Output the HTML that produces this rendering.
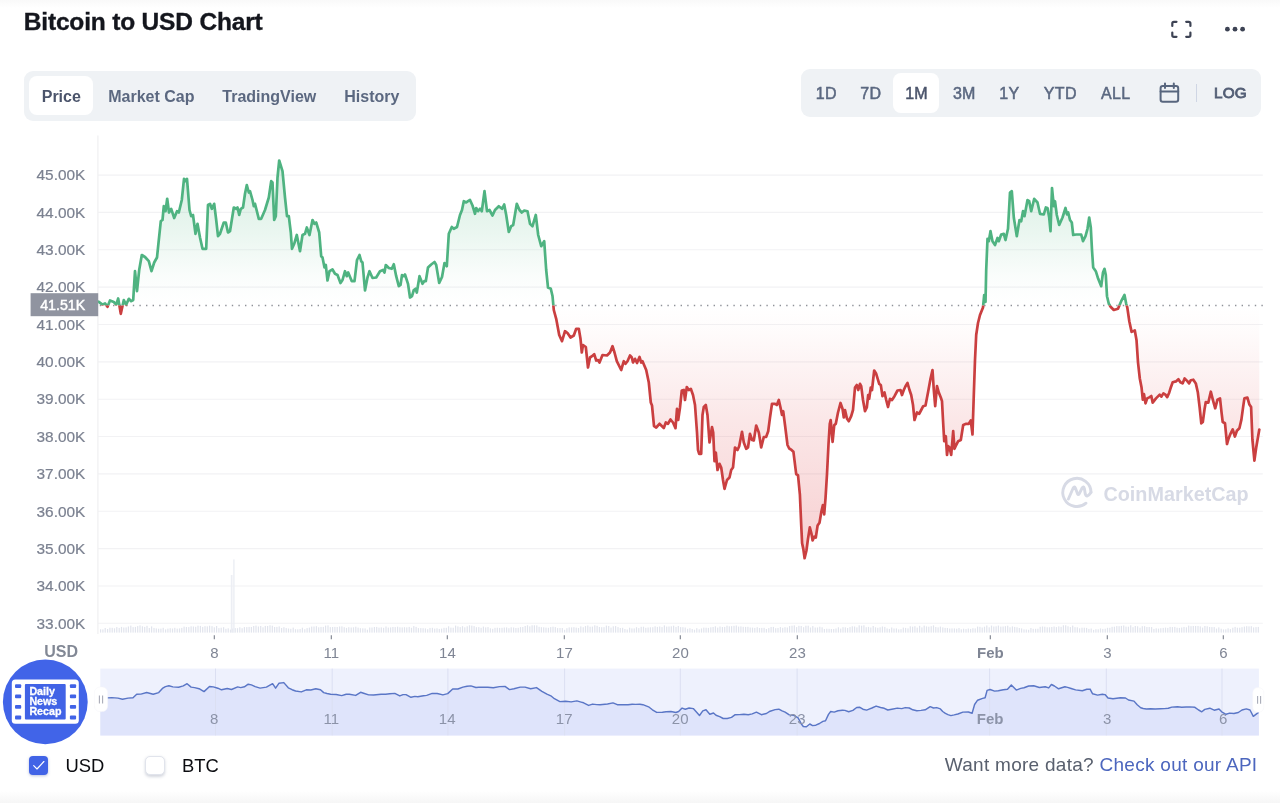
<!DOCTYPE html>
<html lang="en">
<head>
<meta charset="utf-8">
<title>Bitcoin to USD Chart</title>
<style>
html,body{margin:0;padding:0;background:#fff;}
body{width:1280px;height:803px;position:relative;overflow:hidden;font-family:"Liberation Sans",sans-serif;color:#222531;}
.abs{position:absolute;}
h1{position:absolute;left:23.8px;top:6.6px;margin:0;font-size:24.5px;line-height:30px;font-weight:bold;color:#14161d;-webkit-text-stroke:0.35px #14161d;letter-spacing:-0.18px;white-space:nowrap;}
.seg{position:absolute;background:#eff2f5;border-radius:9px;}
.seg span{position:absolute;top:1px;height:100%;display:flex;align-items:center;justify-content:center;font-weight:bold;font-size:16px;color:#5b6880;white-space:nowrap;}
.seg i{position:absolute;background:#fff;border-radius:8px;}
.seg span.on{color:#4b546b;}
#tabs{left:24.3px;top:70.8px;width:392px;height:49.8px;}
#range{left:801px;top:69px;width:459.8px;height:47.8px;}
#range span{font-size:16px;letter-spacing:0.3px;font-weight:normal;-webkit-text-stroke:0.5px #5b6880;top:0.9px;padding-left:0.3px;}
#range span.on{-webkit-text-stroke:0.5px #4b546b;}
.leg{position:absolute;top:753.7px;font-size:18.4px;line-height:24px;color:#0b0c10;}
.cb{position:absolute;width:19px;height:19px;border-radius:4px;box-sizing:border-box;}
#foot{position:absolute;right:22.6px;top:753px;font-size:19px;letter-spacing:0.28px;line-height:24px;color:#59606e;white-space:nowrap;}
#foot a{color:#4c66be;text-decoration:none;}
svg text{font-family:"Liberation Sans",sans-serif;}
</style>
</head>
<body>
<div class="abs" style="left:0;top:0;width:1280px;height:8px;background:linear-gradient(#f9f9f9,#fff);"></div>
<div class="abs" style="left:0;top:791px;width:1280px;height:12px;background:linear-gradient(#fff,#f6f6f6);"></div>
<h1>Bitcoin to USD Chart</h1>

<svg class="abs" style="left:1168px;top:16px" width="84" height="28" viewBox="1168 16 84 28">
  <g fill="none" stroke="#3d4354" stroke-width="2.2" stroke-linecap="round" stroke-linejoin="round">
    <path d="M1172.3,26 V23.4 a1.6,1.6 0 0 1 1.6,-1.6 H1176.5"/>
    <path d="M1186.2,21.8 H1188.8 a1.6,1.6 0 0 1 1.6,1.6 V26"/>
    <path d="M1190.4,32.6 V35.2 a1.6,1.6 0 0 1 -1.6,1.6 H1186.2"/>
    <path d="M1176.5,36.8 H1173.9 a1.6,1.6 0 0 1 -1.6,-1.6 V32.6"/>
  </g>
  <g fill="#3d4354"><circle cx="1227.4" cy="29.2" r="2.4"/><circle cx="1235" cy="29.2" r="2.4"/><circle cx="1242.6" cy="29.2" r="2.4"/></g>
</svg>

<div class="seg" id="tabs">
  <i style="left:5.1px;top:4.8px;width:63.7px;height:39.9px;"></i>
  <span class="on" style="left:5px;width:64px;">Price</span>
  <span style="left:84px;width:86px;">Market Cap</span>
  <span style="left:198px;width:94px;">TradingView</span>
  <span style="left:320px;width:55px;">History</span>
</div>

<div class="seg" id="range">
  <span style="left:16px;width:18px;">1D</span>
  <span style="left:59px;width:21px;">7D</span>
  <i style="left:91.8px;top:4.3px;width:46.2px;height:40.2px;"></i>
  <span class="on" style="left:92.5px;width:45.5px;">1M</span>
  <span style="left:151px;width:24px;">3M</span>
  <span style="left:199px;width:18px;">1Y</span>
  <span style="left:242px;width:34px;">YTD</span>
  <span style="left:300px;width:29px;">ALL</span>
  <span style="left:412.4px;width:33.6px;top:0.4px;letter-spacing:0.25px;font-size:15.3px;-webkit-text-stroke:0.85px #535e75;color:#535e75">LOG</span>
  <svg class="abs" style="left:355px;top:11px" width="44" height="26" viewBox="1156 80 44 26">
    <g fill="none" stroke="#58667e" stroke-width="2" stroke-linecap="round" stroke-linejoin="round">
      <rect x="1160.6" y="86" width="17.6" height="15.8" rx="2.2"/>
      <path d="M1160.6,91.6 H1178.2 M1165,83.6 V88 M1173.8,83.6 V88"/>
    </g>
    <line x1="1196.5" x2="1196.5" y1="84" y2="102" stroke="#cfd6e4" stroke-width="1"/>
  </svg>
</div>

<svg class="abs" style="left:0;top:130px" width="1280" height="610" viewBox="0 130 1280 610">
  <defs>
    <linearGradient id="gg" gradientUnits="userSpaceOnUse" x1="0" y1="160" x2="0" y2="305.5">
      <stop offset="0" stop-color="#58b987" stop-opacity="0.26"/>
      <stop offset="0.5" stop-color="#58b987" stop-opacity="0.125"/>
      <stop offset="0.8" stop-color="#58b987" stop-opacity="0.03"/>
      <stop offset="1" stop-color="#58b987" stop-opacity="0"/>
    </linearGradient>
    <linearGradient id="rg" gradientUnits="userSpaceOnUse" x1="0" y1="305.5" x2="0" y2="558">
      <stop offset="0" stop-color="#e0484d" stop-opacity="0"/>
      <stop offset="0.1" stop-color="#e0484d" stop-opacity="0.02"/>
      <stop offset="0.45" stop-color="#e0484d" stop-opacity="0.13"/>
      <stop offset="1" stop-color="#e0484d" stop-opacity="0.26"/>
    </linearGradient>
    <clipPath id="up"><rect x="90" y="130" width="1180" height="175.5"/></clipPath>
    <clipPath id="dn"><rect x="90" y="305.5" width="1180" height="300"/></clipPath>
  </defs>
  <g stroke="#f2f2f4" stroke-width="1.1"><line x1="97.9" x2="1262.8" y1="623.3" y2="623.3"/><line x1="97.9" x2="1262.8" y1="586.0" y2="586.0"/><line x1="97.9" x2="1262.8" y1="548.6" y2="548.6"/><line x1="97.9" x2="1262.8" y1="511.2" y2="511.2"/><line x1="97.9" x2="1262.8" y1="473.9" y2="473.9"/><line x1="97.9" x2="1262.8" y1="436.5" y2="436.5"/><line x1="97.9" x2="1262.8" y1="399.2" y2="399.2"/><line x1="97.9" x2="1262.8" y1="361.9" y2="361.9"/><line x1="97.9" x2="1262.8" y1="324.5" y2="324.5"/><line x1="97.9" x2="1262.8" y1="287.1" y2="287.1"/><line x1="97.9" x2="1262.8" y1="249.8" y2="249.8"/><line x1="97.9" x2="1262.8" y1="212.4" y2="212.4"/><line x1="97.9" x2="1262.8" y1="175.1" y2="175.1"/></g>
  <line x1="97.9" x2="97.9" y1="135.6" y2="634" stroke="#f0f0f2" stroke-width="1.3"/>
  <g fill="#e1e4ed"><rect x="100.0" y="629.3" width="1.2" height="3.3"/><rect x="102.3" y="629.4" width="1.2" height="3.2"/><rect x="104.6" y="628.0" width="1.2" height="4.6"/><rect x="107.0" y="629.0" width="1.2" height="3.6"/><rect x="109.3" y="627.7" width="1.2" height="4.9"/><rect x="111.6" y="627.8" width="1.2" height="4.8"/><rect x="113.9" y="628.3" width="1.2" height="4.3"/><rect x="116.2" y="627.1" width="1.2" height="5.5"/><rect x="118.6" y="627.9" width="1.2" height="4.7"/><rect x="120.9" y="626.9" width="1.2" height="5.7"/><rect x="123.2" y="627.5" width="1.2" height="5.1"/><rect x="125.5" y="627.4" width="1.2" height="5.2"/><rect x="127.8" y="626.5" width="1.2" height="6.1"/><rect x="130.2" y="625.6" width="1.2" height="7.0"/><rect x="132.5" y="627.1" width="1.2" height="5.5"/><rect x="134.8" y="626.9" width="1.2" height="5.7"/><rect x="137.1" y="626.1" width="1.2" height="6.5"/><rect x="139.4" y="625.4" width="1.2" height="7.2"/><rect x="141.8" y="626.3" width="1.2" height="6.3"/><rect x="144.1" y="626.9" width="1.2" height="5.7"/><rect x="146.4" y="625.8" width="1.2" height="6.8"/><rect x="148.7" y="628.0" width="1.2" height="4.6"/><rect x="151.0" y="626.4" width="1.2" height="6.2"/><rect x="153.4" y="627.9" width="1.2" height="4.7"/><rect x="155.7" y="628.4" width="1.2" height="4.2"/><rect x="158.0" y="628.7" width="1.2" height="3.9"/><rect x="160.3" y="628.6" width="1.2" height="4.0"/><rect x="162.6" y="627.8" width="1.2" height="4.8"/><rect x="165.0" y="629.4" width="1.2" height="3.2"/><rect x="167.3" y="628.6" width="1.2" height="4.0"/><rect x="169.6" y="628.2" width="1.2" height="4.4"/><rect x="171.9" y="628.5" width="1.2" height="4.1"/><rect x="174.2" y="627.8" width="1.2" height="4.8"/><rect x="176.6" y="628.6" width="1.2" height="4.0"/><rect x="178.9" y="628.4" width="1.2" height="4.2"/><rect x="181.2" y="627.9" width="1.2" height="4.7"/><rect x="183.5" y="626.6" width="1.2" height="6.0"/><rect x="185.8" y="627.0" width="1.2" height="5.6"/><rect x="188.2" y="627.1" width="1.2" height="5.5"/><rect x="190.5" y="626.3" width="1.2" height="6.3"/><rect x="192.8" y="626.5" width="1.2" height="6.1"/><rect x="195.1" y="626.8" width="1.2" height="5.8"/><rect x="197.4" y="625.7" width="1.2" height="6.9"/><rect x="199.8" y="625.9" width="1.2" height="6.7"/><rect x="202.1" y="626.9" width="1.2" height="5.7"/><rect x="204.4" y="626.2" width="1.2" height="6.4"/><rect x="206.7" y="626.4" width="1.2" height="6.2"/><rect x="209.0" y="625.7" width="1.2" height="6.9"/><rect x="211.4" y="626.2" width="1.2" height="6.4"/><rect x="213.7" y="627.3" width="1.2" height="5.3"/><rect x="216.0" y="626.0" width="1.2" height="6.6"/><rect x="218.3" y="628.1" width="1.2" height="4.5"/><rect x="220.6" y="627.7" width="1.2" height="4.9"/><rect x="223.0" y="627.2" width="1.2" height="5.4"/><rect x="225.3" y="628.8" width="1.2" height="3.8"/><rect x="227.6" y="628.3" width="1.2" height="4.3"/><rect x="229.9" y="629.6" width="1.2" height="3.0"/><rect x="232.2" y="628.5" width="1.2" height="4.1"/><rect x="234.6" y="628.1" width="1.2" height="4.5"/><rect x="236.9" y="628.2" width="1.2" height="4.4"/><rect x="239.2" y="627.3" width="1.2" height="5.3"/><rect x="241.5" y="628.2" width="1.2" height="4.4"/><rect x="243.8" y="627.1" width="1.2" height="5.5"/><rect x="246.2" y="627.1" width="1.2" height="5.5"/><rect x="248.5" y="626.9" width="1.2" height="5.7"/><rect x="250.8" y="627.0" width="1.2" height="5.6"/><rect x="253.1" y="626.0" width="1.2" height="6.6"/><rect x="255.4" y="625.6" width="1.2" height="7.0"/><rect x="257.8" y="626.5" width="1.2" height="6.1"/><rect x="260.1" y="626.0" width="1.2" height="6.6"/><rect x="262.4" y="627.3" width="1.2" height="5.3"/><rect x="264.7" y="625.9" width="1.2" height="6.7"/><rect x="267.0" y="626.0" width="1.2" height="6.6"/><rect x="269.4" y="625.3" width="1.2" height="7.3"/><rect x="271.7" y="625.7" width="1.2" height="6.9"/><rect x="274.0" y="627.0" width="1.2" height="5.6"/><rect x="276.3" y="626.9" width="1.2" height="5.7"/><rect x="278.6" y="626.4" width="1.2" height="6.2"/><rect x="281.0" y="628.0" width="1.2" height="4.6"/><rect x="283.3" y="627.2" width="1.2" height="5.4"/><rect x="285.6" y="628.1" width="1.2" height="4.5"/><rect x="287.9" y="628.5" width="1.2" height="4.1"/><rect x="290.2" y="628.8" width="1.2" height="3.8"/><rect x="292.6" y="627.6" width="1.2" height="5.0"/><rect x="294.9" y="629.2" width="1.2" height="3.4"/><rect x="297.2" y="629.3" width="1.2" height="3.3"/><rect x="299.5" y="629.0" width="1.2" height="3.6"/><rect x="301.8" y="627.7" width="1.2" height="4.9"/><rect x="304.2" y="629.2" width="1.2" height="3.4"/><rect x="306.5" y="628.1" width="1.2" height="4.5"/><rect x="308.8" y="627.6" width="1.2" height="5.0"/><rect x="311.1" y="626.6" width="1.2" height="6.0"/><rect x="313.4" y="626.5" width="1.2" height="6.1"/><rect x="315.8" y="626.2" width="1.2" height="6.4"/><rect x="318.1" y="627.3" width="1.2" height="5.3"/><rect x="320.4" y="626.9" width="1.2" height="5.7"/><rect x="322.7" y="626.9" width="1.2" height="5.7"/><rect x="325.0" y="625.6" width="1.2" height="7.0"/><rect x="327.4" y="625.4" width="1.2" height="7.2"/><rect x="329.7" y="627.1" width="1.2" height="5.5"/><rect x="332.0" y="627.0" width="1.2" height="5.6"/><rect x="334.3" y="626.9" width="1.2" height="5.7"/><rect x="336.6" y="627.0" width="1.2" height="5.6"/><rect x="339.0" y="626.5" width="1.2" height="6.1"/><rect x="341.3" y="626.4" width="1.2" height="6.2"/><rect x="343.6" y="627.2" width="1.2" height="5.4"/><rect x="345.9" y="627.9" width="1.2" height="4.7"/><rect x="348.2" y="627.2" width="1.2" height="5.4"/><rect x="350.6" y="627.5" width="1.2" height="5.1"/><rect x="352.9" y="627.3" width="1.2" height="5.3"/><rect x="355.2" y="626.7" width="1.2" height="5.9"/><rect x="357.5" y="627.6" width="1.2" height="5.0"/><rect x="359.8" y="628.2" width="1.2" height="4.4"/><rect x="362.2" y="628.3" width="1.2" height="4.3"/><rect x="364.5" y="628.4" width="1.2" height="4.2"/><rect x="366.8" y="629.7" width="1.2" height="2.9"/><rect x="369.1" y="627.5" width="1.2" height="5.1"/><rect x="371.4" y="627.5" width="1.2" height="5.1"/><rect x="373.8" y="627.0" width="1.2" height="5.6"/><rect x="376.1" y="626.9" width="1.2" height="5.7"/><rect x="378.4" y="627.6" width="1.2" height="5.0"/><rect x="380.7" y="627.4" width="1.2" height="5.2"/><rect x="383.0" y="627.8" width="1.2" height="4.8"/><rect x="385.4" y="626.5" width="1.2" height="6.1"/><rect x="387.7" y="627.6" width="1.2" height="5.0"/><rect x="390.0" y="627.4" width="1.2" height="5.2"/><rect x="392.3" y="627.0" width="1.2" height="5.6"/><rect x="394.6" y="627.1" width="1.2" height="5.5"/><rect x="397.0" y="626.7" width="1.2" height="5.9"/><rect x="399.3" y="627.3" width="1.2" height="5.3"/><rect x="401.6" y="627.4" width="1.2" height="5.2"/><rect x="403.9" y="627.2" width="1.2" height="5.4"/><rect x="406.2" y="627.4" width="1.2" height="5.2"/><rect x="408.6" y="626.9" width="1.2" height="5.7"/><rect x="410.9" y="627.8" width="1.2" height="4.8"/><rect x="413.2" y="626.1" width="1.2" height="6.5"/><rect x="415.5" y="626.9" width="1.2" height="5.7"/><rect x="417.8" y="628.1" width="1.2" height="4.5"/><rect x="420.2" y="628.1" width="1.2" height="4.5"/><rect x="422.5" y="628.2" width="1.2" height="4.4"/><rect x="424.8" y="628.4" width="1.2" height="4.2"/><rect x="427.1" y="629.2" width="1.2" height="3.4"/><rect x="429.4" y="627.9" width="1.2" height="4.7"/><rect x="431.8" y="627.8" width="1.2" height="4.8"/><rect x="434.1" y="628.6" width="1.2" height="4.0"/><rect x="436.4" y="628.3" width="1.2" height="4.3"/><rect x="438.7" y="628.9" width="1.2" height="3.7"/><rect x="441.0" y="628.6" width="1.2" height="4.0"/><rect x="443.4" y="627.8" width="1.2" height="4.8"/><rect x="445.7" y="627.8" width="1.2" height="4.8"/><rect x="448.0" y="626.3" width="1.2" height="6.3"/><rect x="450.3" y="627.6" width="1.2" height="5.0"/><rect x="452.6" y="627.7" width="1.2" height="4.9"/><rect x="455.0" y="625.6" width="1.2" height="7.0"/><rect x="457.3" y="626.4" width="1.2" height="6.2"/><rect x="459.6" y="627.1" width="1.2" height="5.5"/><rect x="461.9" y="626.2" width="1.2" height="6.4"/><rect x="464.2" y="627.3" width="1.2" height="5.3"/><rect x="466.6" y="626.3" width="1.2" height="6.3"/><rect x="468.9" y="625.3" width="1.2" height="7.3"/><rect x="471.2" y="625.6" width="1.2" height="7.0"/><rect x="473.5" y="626.1" width="1.2" height="6.5"/><rect x="475.8" y="627.2" width="1.2" height="5.4"/><rect x="478.2" y="627.1" width="1.2" height="5.5"/><rect x="480.5" y="627.8" width="1.2" height="4.8"/><rect x="482.8" y="626.6" width="1.2" height="6.0"/><rect x="485.1" y="627.4" width="1.2" height="5.2"/><rect x="487.4" y="627.1" width="1.2" height="5.5"/><rect x="489.8" y="628.3" width="1.2" height="4.3"/><rect x="492.1" y="628.8" width="1.2" height="3.8"/><rect x="494.4" y="627.8" width="1.2" height="4.8"/><rect x="496.7" y="627.7" width="1.2" height="4.9"/><rect x="499.0" y="627.9" width="1.2" height="4.7"/><rect x="501.4" y="627.8" width="1.2" height="4.8"/><rect x="503.7" y="627.5" width="1.2" height="5.1"/><rect x="506.0" y="627.4" width="1.2" height="5.2"/><rect x="508.3" y="628.2" width="1.2" height="4.4"/><rect x="510.6" y="627.3" width="1.2" height="5.3"/><rect x="513.0" y="627.5" width="1.2" height="5.1"/><rect x="515.3" y="628.0" width="1.2" height="4.6"/><rect x="517.6" y="627.8" width="1.2" height="4.8"/><rect x="519.9" y="627.1" width="1.2" height="5.5"/><rect x="522.2" y="627.0" width="1.2" height="5.6"/><rect x="524.6" y="626.0" width="1.2" height="6.6"/><rect x="526.9" y="625.3" width="1.2" height="7.3"/><rect x="529.2" y="626.4" width="1.2" height="6.2"/><rect x="531.5" y="625.3" width="1.2" height="7.3"/><rect x="533.8" y="625.3" width="1.2" height="7.3"/><rect x="536.2" y="625.4" width="1.2" height="7.2"/><rect x="538.5" y="626.8" width="1.2" height="5.8"/><rect x="540.8" y="627.2" width="1.2" height="5.4"/><rect x="543.1" y="627.3" width="1.2" height="5.3"/><rect x="545.4" y="627.6" width="1.2" height="5.0"/><rect x="547.8" y="627.8" width="1.2" height="4.8"/><rect x="550.1" y="627.1" width="1.2" height="5.5"/><rect x="552.4" y="626.7" width="1.2" height="5.9"/><rect x="554.7" y="627.1" width="1.2" height="5.5"/><rect x="557.0" y="628.1" width="1.2" height="4.5"/><rect x="559.4" y="628.0" width="1.2" height="4.6"/><rect x="561.7" y="628.0" width="1.2" height="4.6"/><rect x="564.0" y="629.8" width="1.2" height="2.8"/><rect x="566.3" y="628.2" width="1.2" height="4.4"/><rect x="568.6" y="627.4" width="1.2" height="5.2"/><rect x="571.0" y="627.4" width="1.2" height="5.2"/><rect x="573.3" y="627.2" width="1.2" height="5.4"/><rect x="575.6" y="627.6" width="1.2" height="5.0"/><rect x="577.9" y="628.0" width="1.2" height="4.6"/><rect x="580.2" y="626.4" width="1.2" height="6.2"/><rect x="582.6" y="627.2" width="1.2" height="5.4"/><rect x="584.9" y="626.1" width="1.2" height="6.5"/><rect x="587.2" y="625.5" width="1.2" height="7.1"/><rect x="589.5" y="626.7" width="1.2" height="5.9"/><rect x="591.8" y="626.6" width="1.2" height="6.0"/><rect x="594.2" y="625.3" width="1.2" height="7.3"/><rect x="596.5" y="625.8" width="1.2" height="6.8"/><rect x="598.8" y="627.0" width="1.2" height="5.6"/><rect x="601.1" y="627.2" width="1.2" height="5.4"/><rect x="603.4" y="627.2" width="1.2" height="5.4"/><rect x="605.8" y="625.6" width="1.2" height="7.0"/><rect x="608.1" y="626.0" width="1.2" height="6.6"/><rect x="610.4" y="627.6" width="1.2" height="5.0"/><rect x="612.7" y="626.3" width="1.2" height="6.3"/><rect x="615.0" y="626.1" width="1.2" height="6.5"/><rect x="617.4" y="627.1" width="1.2" height="5.5"/><rect x="619.7" y="628.0" width="1.2" height="4.6"/><rect x="622.0" y="627.8" width="1.2" height="4.8"/><rect x="624.3" y="629.0" width="1.2" height="3.6"/><rect x="626.6" y="629.5" width="1.2" height="3.1"/><rect x="629.0" y="627.7" width="1.2" height="4.9"/><rect x="631.3" y="628.4" width="1.2" height="4.2"/><rect x="633.6" y="628.4" width="1.2" height="4.2"/><rect x="635.9" y="627.2" width="1.2" height="5.4"/><rect x="638.2" y="628.1" width="1.2" height="4.5"/><rect x="640.6" y="626.8" width="1.2" height="5.8"/><rect x="642.9" y="626.7" width="1.2" height="5.9"/><rect x="645.2" y="627.8" width="1.2" height="4.8"/><rect x="647.5" y="627.5" width="1.2" height="5.1"/><rect x="649.8" y="627.3" width="1.2" height="5.3"/><rect x="652.2" y="627.2" width="1.2" height="5.4"/><rect x="654.5" y="626.3" width="1.2" height="6.3"/><rect x="656.8" y="626.9" width="1.2" height="5.7"/><rect x="659.1" y="626.5" width="1.2" height="6.1"/><rect x="661.4" y="627.1" width="1.2" height="5.5"/><rect x="663.8" y="625.4" width="1.2" height="7.2"/><rect x="666.1" y="626.6" width="1.2" height="6.0"/><rect x="668.4" y="626.5" width="1.2" height="6.1"/><rect x="670.7" y="626.3" width="1.2" height="6.3"/><rect x="673.0" y="625.7" width="1.2" height="6.9"/><rect x="675.4" y="626.9" width="1.2" height="5.7"/><rect x="677.7" y="626.0" width="1.2" height="6.6"/><rect x="680.0" y="627.1" width="1.2" height="5.5"/><rect x="682.3" y="627.2" width="1.2" height="5.4"/><rect x="684.6" y="627.5" width="1.2" height="5.1"/><rect x="687.0" y="628.8" width="1.2" height="3.8"/><rect x="689.3" y="628.2" width="1.2" height="4.4"/><rect x="691.6" y="629.0" width="1.2" height="3.6"/><rect x="693.9" y="629.7" width="1.2" height="2.9"/><rect x="696.2" y="628.2" width="1.2" height="4.4"/><rect x="698.6" y="629.3" width="1.2" height="3.3"/><rect x="700.9" y="628.4" width="1.2" height="4.2"/><rect x="703.2" y="627.6" width="1.2" height="5.0"/><rect x="705.5" y="627.7" width="1.2" height="4.9"/><rect x="707.8" y="627.9" width="1.2" height="4.7"/><rect x="710.2" y="627.3" width="1.2" height="5.3"/><rect x="712.5" y="627.0" width="1.2" height="5.6"/><rect x="714.8" y="626.3" width="1.2" height="6.3"/><rect x="717.1" y="627.6" width="1.2" height="5.0"/><rect x="719.4" y="626.5" width="1.2" height="6.1"/><rect x="721.8" y="627.0" width="1.2" height="5.6"/><rect x="724.1" y="626.9" width="1.2" height="5.7"/><rect x="726.4" y="625.7" width="1.2" height="6.9"/><rect x="728.7" y="626.3" width="1.2" height="6.3"/><rect x="731.0" y="626.2" width="1.2" height="6.4"/><rect x="733.4" y="625.8" width="1.2" height="6.8"/><rect x="735.7" y="625.5" width="1.2" height="7.1"/><rect x="738.0" y="626.6" width="1.2" height="6.0"/><rect x="740.3" y="626.4" width="1.2" height="6.2"/><rect x="742.6" y="626.8" width="1.2" height="5.8"/><rect x="745.0" y="626.9" width="1.2" height="5.7"/><rect x="747.3" y="626.8" width="1.2" height="5.8"/><rect x="749.6" y="627.5" width="1.2" height="5.1"/><rect x="751.9" y="627.6" width="1.2" height="5.0"/><rect x="754.2" y="627.9" width="1.2" height="4.7"/><rect x="756.6" y="627.2" width="1.2" height="5.4"/><rect x="758.9" y="628.0" width="1.2" height="4.6"/><rect x="761.2" y="627.9" width="1.2" height="4.7"/><rect x="763.5" y="627.8" width="1.2" height="4.8"/><rect x="765.8" y="629.0" width="1.2" height="3.6"/><rect x="768.2" y="628.1" width="1.2" height="4.5"/><rect x="770.5" y="627.0" width="1.2" height="5.6"/><rect x="772.8" y="626.9" width="1.2" height="5.7"/><rect x="775.1" y="628.2" width="1.2" height="4.4"/><rect x="777.4" y="628.0" width="1.2" height="4.6"/><rect x="779.8" y="627.1" width="1.2" height="5.5"/><rect x="782.1" y="627.8" width="1.2" height="4.8"/><rect x="784.4" y="627.2" width="1.2" height="5.4"/><rect x="786.7" y="627.5" width="1.2" height="5.1"/><rect x="789.0" y="626.1" width="1.2" height="6.5"/><rect x="791.4" y="625.7" width="1.2" height="6.9"/><rect x="793.7" y="625.4" width="1.2" height="7.2"/><rect x="796.0" y="627.1" width="1.2" height="5.5"/><rect x="798.3" y="625.8" width="1.2" height="6.8"/><rect x="800.6" y="626.0" width="1.2" height="6.6"/><rect x="803.0" y="627.2" width="1.2" height="5.4"/><rect x="805.3" y="625.7" width="1.2" height="6.9"/><rect x="807.6" y="625.7" width="1.2" height="6.9"/><rect x="809.9" y="627.5" width="1.2" height="5.1"/><rect x="812.2" y="626.1" width="1.2" height="6.5"/><rect x="814.6" y="627.5" width="1.2" height="5.1"/><rect x="816.9" y="627.5" width="1.2" height="5.1"/><rect x="819.2" y="626.7" width="1.2" height="5.9"/><rect x="821.5" y="627.3" width="1.2" height="5.3"/><rect x="823.8" y="629.0" width="1.2" height="3.6"/><rect x="826.2" y="628.7" width="1.2" height="3.9"/><rect x="828.5" y="628.8" width="1.2" height="3.8"/><rect x="830.8" y="629.0" width="1.2" height="3.6"/><rect x="833.1" y="629.0" width="1.2" height="3.6"/><rect x="835.4" y="628.5" width="1.2" height="4.1"/><rect x="837.8" y="627.3" width="1.2" height="5.3"/><rect x="840.1" y="628.6" width="1.2" height="4.0"/><rect x="842.4" y="627.2" width="1.2" height="5.4"/><rect x="844.7" y="627.3" width="1.2" height="5.3"/><rect x="847.0" y="628.0" width="1.2" height="4.6"/><rect x="849.4" y="627.1" width="1.2" height="5.5"/><rect x="851.7" y="626.3" width="1.2" height="6.3"/><rect x="854.0" y="626.5" width="1.2" height="6.1"/><rect x="856.3" y="627.4" width="1.2" height="5.2"/><rect x="858.6" y="625.3" width="1.2" height="7.3"/><rect x="861.0" y="625.7" width="1.2" height="6.9"/><rect x="863.3" y="625.3" width="1.2" height="7.3"/><rect x="865.6" y="627.2" width="1.2" height="5.4"/><rect x="867.9" y="626.9" width="1.2" height="5.7"/><rect x="870.2" y="627.5" width="1.2" height="5.1"/><rect x="872.6" y="626.0" width="1.2" height="6.6"/><rect x="874.9" y="627.3" width="1.2" height="5.3"/><rect x="877.2" y="627.8" width="1.2" height="4.8"/><rect x="879.5" y="627.3" width="1.2" height="5.3"/><rect x="881.8" y="626.5" width="1.2" height="6.1"/><rect x="884.2" y="626.9" width="1.2" height="5.7"/><rect x="886.5" y="628.4" width="1.2" height="4.2"/><rect x="888.8" y="628.9" width="1.2" height="3.7"/><rect x="891.1" y="627.5" width="1.2" height="5.1"/><rect x="893.4" y="628.5" width="1.2" height="4.1"/><rect x="895.8" y="628.4" width="1.2" height="4.2"/><rect x="898.1" y="629.4" width="1.2" height="3.2"/><rect x="900.4" y="629.2" width="1.2" height="3.4"/><rect x="902.7" y="627.6" width="1.2" height="5.0"/><rect x="905.0" y="627.9" width="1.2" height="4.7"/><rect x="907.4" y="628.4" width="1.2" height="4.2"/><rect x="909.7" y="626.3" width="1.2" height="6.3"/><rect x="912.0" y="626.7" width="1.2" height="5.9"/><rect x="914.3" y="626.2" width="1.2" height="6.4"/><rect x="916.6" y="627.6" width="1.2" height="5.0"/><rect x="919.0" y="625.8" width="1.2" height="6.8"/><rect x="921.3" y="627.4" width="1.2" height="5.2"/><rect x="923.6" y="625.6" width="1.2" height="7.0"/><rect x="925.9" y="626.4" width="1.2" height="6.2"/><rect x="928.2" y="626.7" width="1.2" height="5.9"/><rect x="930.6" y="626.2" width="1.2" height="6.4"/><rect x="932.9" y="625.4" width="1.2" height="7.2"/><rect x="935.2" y="627.0" width="1.2" height="5.6"/><rect x="937.5" y="627.4" width="1.2" height="5.2"/><rect x="939.8" y="626.6" width="1.2" height="6.0"/><rect x="942.2" y="627.4" width="1.2" height="5.2"/><rect x="944.5" y="627.9" width="1.2" height="4.7"/><rect x="946.8" y="628.0" width="1.2" height="4.6"/><rect x="949.1" y="628.5" width="1.2" height="4.1"/><rect x="951.4" y="628.4" width="1.2" height="4.2"/><rect x="953.8" y="628.4" width="1.2" height="4.2"/><rect x="956.1" y="628.7" width="1.2" height="3.9"/><rect x="958.4" y="628.0" width="1.2" height="4.6"/><rect x="960.7" y="629.3" width="1.2" height="3.3"/><rect x="963.0" y="628.7" width="1.2" height="3.9"/><rect x="965.4" y="629.1" width="1.2" height="3.5"/><rect x="967.7" y="628.5" width="1.2" height="4.1"/><rect x="970.0" y="628.9" width="1.2" height="3.7"/><rect x="972.3" y="628.2" width="1.2" height="4.4"/><rect x="974.6" y="628.4" width="1.2" height="4.2"/><rect x="977.0" y="626.6" width="1.2" height="6.0"/><rect x="979.3" y="626.8" width="1.2" height="5.8"/><rect x="981.6" y="627.5" width="1.2" height="5.1"/><rect x="983.9" y="626.7" width="1.2" height="5.9"/><rect x="986.2" y="625.5" width="1.2" height="7.1"/><rect x="988.6" y="627.3" width="1.2" height="5.3"/><rect x="990.9" y="625.6" width="1.2" height="7.0"/><rect x="993.2" y="626.5" width="1.2" height="6.1"/><rect x="995.5" y="626.3" width="1.2" height="6.3"/><rect x="997.8" y="625.6" width="1.2" height="7.0"/><rect x="1000.2" y="626.6" width="1.2" height="6.0"/><rect x="1002.5" y="626.5" width="1.2" height="6.1"/><rect x="1004.8" y="626.2" width="1.2" height="6.4"/><rect x="1007.1" y="625.7" width="1.2" height="6.9"/><rect x="1009.4" y="627.3" width="1.2" height="5.3"/><rect x="1011.8" y="626.4" width="1.2" height="6.2"/><rect x="1014.1" y="626.9" width="1.2" height="5.7"/><rect x="1016.4" y="627.3" width="1.2" height="5.3"/><rect x="1018.7" y="628.0" width="1.2" height="4.6"/><rect x="1021.0" y="628.4" width="1.2" height="4.2"/><rect x="1023.4" y="629.4" width="1.2" height="3.2"/><rect x="1025.7" y="629.5" width="1.2" height="3.1"/><rect x="1028.0" y="629.8" width="1.2" height="2.8"/><rect x="1030.3" y="628.0" width="1.2" height="4.6"/><rect x="1032.6" y="628.8" width="1.2" height="3.8"/><rect x="1035.0" y="628.8" width="1.2" height="3.8"/><rect x="1037.3" y="628.7" width="1.2" height="3.9"/><rect x="1039.6" y="626.8" width="1.2" height="5.8"/><rect x="1041.9" y="626.5" width="1.2" height="6.1"/><rect x="1044.2" y="626.7" width="1.2" height="5.9"/><rect x="1046.6" y="627.3" width="1.2" height="5.3"/><rect x="1048.9" y="627.3" width="1.2" height="5.3"/><rect x="1051.2" y="627.0" width="1.2" height="5.6"/><rect x="1053.5" y="626.5" width="1.2" height="6.1"/><rect x="1055.8" y="627.1" width="1.2" height="5.5"/><rect x="1058.2" y="626.4" width="1.2" height="6.2"/><rect x="1060.5" y="626.8" width="1.2" height="5.8"/><rect x="1062.8" y="625.3" width="1.2" height="7.3"/><rect x="1065.1" y="625.3" width="1.2" height="7.3"/><rect x="1067.4" y="626.3" width="1.2" height="6.3"/><rect x="1069.8" y="627.1" width="1.2" height="5.5"/><rect x="1072.1" y="625.6" width="1.2" height="7.0"/><rect x="1074.4" y="627.2" width="1.2" height="5.4"/><rect x="1076.7" y="627.3" width="1.2" height="5.3"/><rect x="1079.0" y="628.3" width="1.2" height="4.3"/><rect x="1081.4" y="627.7" width="1.2" height="4.9"/><rect x="1083.7" y="627.7" width="1.2" height="4.9"/><rect x="1086.0" y="627.9" width="1.2" height="4.7"/><rect x="1088.3" y="628.9" width="1.2" height="3.7"/><rect x="1090.6" y="628.5" width="1.2" height="4.1"/><rect x="1093.0" y="629.9" width="1.2" height="2.7"/><rect x="1095.3" y="629.2" width="1.2" height="3.4"/><rect x="1097.6" y="629.3" width="1.2" height="3.3"/><rect x="1099.9" y="628.4" width="1.2" height="4.2"/><rect x="1102.2" y="628.9" width="1.2" height="3.7"/><rect x="1104.6" y="628.7" width="1.2" height="3.9"/><rect x="1106.9" y="627.8" width="1.2" height="4.8"/><rect x="1109.2" y="627.8" width="1.2" height="4.8"/><rect x="1111.5" y="626.8" width="1.2" height="5.8"/><rect x="1113.8" y="626.7" width="1.2" height="5.9"/><rect x="1116.2" y="626.1" width="1.2" height="6.5"/><rect x="1118.5" y="626.2" width="1.2" height="6.4"/><rect x="1120.8" y="625.9" width="1.2" height="6.7"/><rect x="1123.1" y="625.5" width="1.2" height="7.1"/><rect x="1125.4" y="626.6" width="1.2" height="6.0"/><rect x="1127.8" y="626.7" width="1.2" height="5.9"/><rect x="1130.1" y="625.3" width="1.2" height="7.3"/><rect x="1132.4" y="627.2" width="1.2" height="5.4"/><rect x="1134.7" y="626.0" width="1.2" height="6.6"/><rect x="1137.0" y="626.3" width="1.2" height="6.3"/><rect x="1139.4" y="627.7" width="1.2" height="4.9"/><rect x="1141.7" y="626.2" width="1.2" height="6.4"/><rect x="1144.0" y="626.2" width="1.2" height="6.4"/><rect x="1146.3" y="627.0" width="1.2" height="5.6"/><rect x="1148.6" y="627.0" width="1.2" height="5.6"/><rect x="1151.0" y="627.1" width="1.2" height="5.5"/><rect x="1153.3" y="628.9" width="1.2" height="3.7"/><rect x="1155.6" y="628.3" width="1.2" height="4.3"/><rect x="1157.9" y="628.6" width="1.2" height="4.0"/><rect x="1160.2" y="628.2" width="1.2" height="4.4"/><rect x="1162.6" y="627.9" width="1.2" height="4.7"/><rect x="1164.9" y="627.6" width="1.2" height="5.0"/><rect x="1167.2" y="627.9" width="1.2" height="4.7"/><rect x="1169.5" y="626.9" width="1.2" height="5.7"/><rect x="1171.8" y="627.1" width="1.2" height="5.5"/><rect x="1174.2" y="626.9" width="1.2" height="5.7"/><rect x="1176.5" y="627.7" width="1.2" height="4.9"/><rect x="1178.8" y="627.9" width="1.2" height="4.7"/><rect x="1181.1" y="627.5" width="1.2" height="5.1"/><rect x="1183.4" y="626.9" width="1.2" height="5.7"/><rect x="1185.8" y="627.3" width="1.2" height="5.3"/><rect x="1188.1" y="625.6" width="1.2" height="7.0"/><rect x="1190.4" y="626.2" width="1.2" height="6.4"/><rect x="1192.7" y="626.0" width="1.2" height="6.6"/><rect x="1195.0" y="626.0" width="1.2" height="6.6"/><rect x="1197.4" y="626.0" width="1.2" height="6.6"/><rect x="1199.7" y="626.4" width="1.2" height="6.2"/><rect x="1202.0" y="627.6" width="1.2" height="5.0"/><rect x="1204.3" y="626.0" width="1.2" height="6.6"/><rect x="1206.6" y="626.3" width="1.2" height="6.3"/><rect x="1209.0" y="627.0" width="1.2" height="5.6"/><rect x="1211.3" y="627.1" width="1.2" height="5.5"/><rect x="1213.6" y="627.1" width="1.2" height="5.5"/><rect x="1215.9" y="628.6" width="1.2" height="4.0"/><rect x="1218.2" y="627.4" width="1.2" height="5.2"/><rect x="1220.6" y="628.7" width="1.2" height="3.9"/><rect x="1222.9" y="629.4" width="1.2" height="3.2"/><rect x="1225.2" y="629.3" width="1.2" height="3.3"/><rect x="1227.5" y="628.3" width="1.2" height="4.3"/><rect x="1229.8" y="629.1" width="1.2" height="3.5"/><rect x="1232.2" y="627.7" width="1.2" height="4.9"/><rect x="1234.5" y="626.9" width="1.2" height="5.7"/><rect x="1236.8" y="627.7" width="1.2" height="4.9"/><rect x="1239.1" y="627.7" width="1.2" height="4.9"/><rect x="1241.4" y="627.2" width="1.2" height="5.4"/><rect x="1243.8" y="626.6" width="1.2" height="6.0"/><rect x="1246.1" y="626.2" width="1.2" height="6.4"/><rect x="1248.4" y="626.4" width="1.2" height="6.2"/><rect x="1250.7" y="626.2" width="1.2" height="6.4"/><rect x="1253.0" y="627.4" width="1.2" height="5.2"/><rect x="1255.4" y="627.1" width="1.2" height="5.5"/><rect x="1257.7" y="626.9" width="1.2" height="5.7"/><rect x="230.8" y="575" width="1.7" height="57.6" fill="#eceef4"/><rect x="233.2" y="559.4" width="1.4" height="73.2" fill="#eceef4"/></g>
  <g clip-path="url(#up)"><path d="M98.8,305.5 L98.8,301.8 L102.5,304.6 L105.0,303.4 L107.5,306.8 L110.0,300.5 L113.8,302.0 L116.2,304.6 L118.2,298.5 L120.8,313.8 L123.8,300.0 L126.2,304.8 L128.8,298.8 L131.2,301.2 L133.2,300.0 L135.0,271.2 L137.0,291.2 L139.2,270.0 L141.8,255.0 L145.0,257.0 L148.8,261.2 L151.5,271.2 L154.2,262.5 L157.0,257.5 L158.8,240.0 L160.8,221.2 L162.5,220.0 L163.8,206.2 L165.5,211.2 L167.2,198.8 L169.0,212.5 L171.2,208.8 L174.2,218.0 L177.0,211.2 L178.8,212.5 L181.8,200.0 L184.0,178.8 L185.5,181.2 L187.0,178.8 L189.5,210.0 L191.2,216.2 L193.0,215.0 L195.5,233.8 L197.5,223.8 L200.0,237.5 L202.5,248.8 L206.2,248.8 L208.0,205.0 L210.0,203.8 L211.8,208.8 L214.2,203.8 L216.2,220.0 L218.0,236.2 L220.0,233.8 L223.8,222.5 L225.8,222.5 L228.0,232.5 L230.0,231.2 L233.8,207.5 L236.2,208.8 L237.5,207.5 L239.2,215.0 L240.8,208.8 L243.0,207.5 L245.0,193.8 L246.8,185.0 L248.8,192.5 L250.0,191.2 L252.5,200.0 L253.8,206.2 L255.0,203.8 L258.8,218.8 L261.2,218.8 L265.0,210.0 L268.8,197.5 L271.2,181.2 L272.5,182.5 L274.2,220.0 L275.8,216.2 L277.5,177.5 L279.2,160.5 L282.5,171.2 L285.0,197.5 L287.0,216.2 L288.8,216.2 L290.8,232.5 L292.0,248.8 L294.2,243.8 L296.8,235.0 L300.0,251.2 L302.5,235.0 L305.0,233.8 L306.8,227.5 L309.5,235.0 L312.5,220.0 L314.5,223.8 L316.2,222.5 L319.2,232.5 L321.2,256.2 L322.5,257.5 L324.5,267.5 L325.8,265.0 L327.5,280.5 L329.5,271.2 L332.5,269.5 L335.0,273.8 L337.5,275.0 L340.5,283.0 L342.5,280.0 L345.0,271.2 L346.8,276.2 L348.2,272.5 L351.8,281.2 L354.5,281.2 L357.0,260.0 L359.5,255.0 L361.2,261.2 L362.5,262.5 L365.0,290.5 L367.5,277.5 L369.5,271.2 L372.5,278.0 L376.2,277.5 L380.0,271.2 L383.0,270.0 L384.5,272.5 L385.8,265.0 L388.8,268.0 L391.8,268.8 L393.8,264.2 L396.2,276.2 L398.8,286.2 L400.5,285.0 L402.0,275.0 L403.8,276.2 L405.0,274.5 L408.0,283.8 L410.0,297.5 L412.0,296.2 L413.8,290.0 L415.5,288.8 L416.8,292.5 L419.5,276.2 L422.5,283.8 L424.2,281.2 L425.8,281.2 L428.0,267.5 L431.2,264.5 L434.5,262.0 L436.2,265.0 L439.2,283.0 L442.0,277.0 L444.5,263.0 L446.8,266.2 L448.8,233.8 L451.8,227.0 L453.8,228.8 L457.0,227.0 L460.0,215.0 L462.0,210.0 L463.8,201.2 L466.2,202.5 L468.0,201.2 L470.0,200.0 L472.5,205.5 L475.0,213.8 L476.2,208.0 L478.0,211.2 L480.0,208.8 L481.8,211.2 L484.5,191.2 L487.0,211.2 L489.5,210.0 L492.5,215.5 L495.0,210.0 L498.8,206.2 L502.0,208.8 L504.2,204.5 L506.2,215.0 L508.8,232.0 L511.2,226.2 L513.2,225.0 L516.8,203.8 L519.5,210.0 L521.8,212.5 L524.2,210.5 L527.5,211.2 L530.0,223.8 L532.5,226.2 L535.8,215.0 L538.2,235.0 L541.2,246.2 L544.2,241.2 L546.2,270.0 L548.0,287.5 L550.8,288.8 L552.5,296.0 L553.8,310.0 L556.2,318.8 L559.2,335.0 L562.0,341.2 L565.0,331.2 L567.5,333.0 L570.5,337.5 L573.8,335.5 L576.2,328.8 L578.8,328.8 L580.5,338.8 L581.8,352.5 L583.0,345.0 L585.8,347.0 L588.0,367.5 L590.0,357.5 L592.0,356.2 L594.2,354.2 L596.2,360.5 L598.0,360.0 L599.5,362.5 L602.5,355.0 L607.0,355.5 L610.0,352.5 L612.5,346.2 L614.5,352.5 L616.8,361.2 L621.2,370.0 L623.8,361.2 L625.5,363.8 L627.5,361.2 L630.0,355.5 L631.8,357.5 L633.0,362.5 L635.0,358.8 L637.0,363.0 L639.5,357.0 L641.2,362.5 L642.5,361.2 L646.2,370.0 L648.8,382.5 L650.8,402.5 L652.0,405.5 L654.0,426.2 L656.2,427.5 L659.5,423.8 L662.0,426.2 L663.8,428.0 L665.8,422.5 L668.0,423.8 L670.5,419.5 L673.0,422.5 L675.5,428.2 L677.0,408.8 L678.2,420.0 L680.0,407.5 L681.8,390.5 L683.8,390.0 L685.0,400.0 L686.8,387.0 L688.8,390.0 L690.8,388.8 L693.0,395.0 L695.0,405.0 L697.0,432.5 L698.0,450.0 L699.2,453.8 L701.2,453.8 L702.5,415.0 L703.8,407.0 L705.8,405.0 L707.5,415.0 L709.5,442.5 L712.0,427.0 L713.2,432.5 L714.5,461.2 L715.8,452.5 L717.5,470.0 L719.5,463.8 L721.2,467.5 L723.0,480.0 L724.5,488.8 L727.0,480.0 L729.5,477.5 L731.2,470.0 L733.0,467.5 L735.0,447.5 L737.5,450.0 L739.2,446.2 L742.0,431.8 L743.8,442.5 L746.2,448.8 L748.0,447.5 L750.0,433.8 L752.0,440.0 L753.8,440.5 L756.2,425.5 L758.8,432.5 L761.2,447.5 L763.8,437.0 L766.2,436.8 L768.2,431.2 L770.0,417.5 L772.0,403.8 L775.0,403.8 L776.8,405.0 L778.8,400.0 L780.5,407.5 L782.0,415.0 L783.2,411.2 L785.0,425.0 L787.5,445.0 L789.2,448.5 L791.5,449.9 L793.4,451.7 L796.2,474.2 L798.0,475.1 L799.9,494.7 L801.2,524.6 L802.1,543.2 L803.3,548.9 L804.6,558.2 L806.4,550.7 L807.9,539.5 L809.8,527.4 L811.5,533.9 L812.6,540.4 L814.3,536.7 L815.8,537.6 L817.6,525.5 L819.5,522.7 L821.4,511.5 L822.9,505.0 L824.2,514.3 L825.5,498.4 L827.0,474.2 L828.5,444.3 L829.8,423.7 L830.7,420.0 L832.6,441.8 L834.2,425.3 L835.8,423.7 L838.0,412.5 L840.5,403.0 L842.5,408.8 L843.8,417.5 L845.0,410.0 L847.0,418.8 L848.8,421.2 L851.2,416.2 L853.0,410.0 L855.0,387.5 L856.8,385.0 L858.2,390.0 L860.0,383.8 L861.2,386.2 L863.0,400.0 L865.0,411.2 L866.8,407.5 L868.2,395.0 L869.2,398.8 L870.8,387.5 L872.0,390.0 L874.2,370.5 L876.2,373.8 L879.2,383.8 L880.8,385.0 L882.5,396.2 L884.5,392.5 L886.2,400.0 L888.0,407.0 L890.0,398.8 L892.0,400.0 L894.5,396.2 L897.5,390.5 L900.5,390.0 L902.0,395.0 L903.8,390.0 L905.5,386.2 L907.5,383.0 L909.5,390.0 L911.2,395.0 L913.0,405.0 L914.5,420.0 L917.0,412.5 L919.2,413.8 L921.2,410.0 L923.2,406.2 L925.5,405.5 L928.0,392.5 L930.5,378.8 L932.5,370.0 L933.8,390.0 L935.2,406.2 L937.0,386.2 L938.8,392.5 L940.8,397.5 L942.0,401.2 L943.0,420.0 L944.2,441.2 L945.8,436.2 L947.0,455.0 L948.2,446.2 L949.5,447.5 L951.2,455.0 L953.2,431.2 L954.5,448.8 L956.2,445.0 L958.2,441.2 L960.8,440.0 L963.2,425.0 L966.2,423.8 L968.8,423.8 L970.8,420.5 L972.5,434.5 L973.8,395.0 L975.0,360.0 L976.2,335.0 L978.0,323.0 L980.0,315.0 L983.0,307.5 L984.2,295.0 L985.5,302.0 L986.2,270.0 L987.5,238.8 L988.8,241.2 L990.5,231.2 L992.5,241.2 L995.0,245.0 L997.5,238.0 L998.8,241.2 L1001.2,234.5 L1003.8,233.8 L1005.5,240.0 L1008.0,228.8 L1010.0,192.5 L1011.8,191.2 L1013.8,217.5 L1016.8,236.2 L1019.5,220.0 L1021.2,221.2 L1023.0,211.2 L1024.5,216.2 L1027.5,200.0 L1029.2,201.2 L1031.2,211.2 L1034.2,198.8 L1037.5,202.5 L1040.0,213.8 L1043.8,214.5 L1045.8,207.5 L1047.5,208.0 L1049.2,217.5 L1050.5,231.2 L1052.0,188.0 L1053.8,206.2 L1055.0,201.2 L1056.8,215.0 L1059.2,225.0 L1062.5,217.5 L1065.5,208.0 L1067.0,214.5 L1068.2,212.5 L1070.0,220.0 L1071.8,222.5 L1073.2,235.0 L1076.2,234.5 L1081.2,234.5 L1083.0,241.2 L1085.5,236.2 L1087.5,228.8 L1089.2,217.5 L1090.8,227.5 L1092.0,250.0 L1093.2,267.5 L1095.8,271.2 L1098.2,278.8 L1101.2,286.2 L1103.0,272.5 L1104.5,268.8 L1105.8,275.0 L1107.0,296.2 L1108.8,303.8 L1110.8,307.0 L1113.8,310.0 L1118.0,308.8 L1121.2,301.2 L1124.5,295.0 L1126.2,303.8 L1127.3,307.5 L1129.3,321.2 L1131.6,331.9 L1134.8,330.4 L1136.5,339.9 L1138.0,362.3 L1139.8,378.5 L1141.5,387.2 L1142.8,399.6 L1144.0,394.1 L1145.5,403.4 L1147.2,398.4 L1149.7,397.1 L1151.3,396.0 L1152.7,402.6 L1156.0,398.4 L1159.7,394.6 L1161.4,396.6 L1163.4,393.4 L1165.4,394.6 L1167.2,397.1 L1169.2,392.7 L1170.9,387.2 L1172.7,382.2 L1175.9,381.4 L1178.4,379.2 L1180.4,382.2 L1182.6,383.4 L1184.6,378.5 L1187.1,380.9 L1189.1,383.4 L1190.8,380.2 L1193.3,379.7 L1195.8,383.4 L1197.8,392.2 L1199.6,407.1 L1201.3,423.3 L1202.8,422.0 L1204.5,409.6 L1205.8,402.1 L1208.3,402.6 L1210.8,391.7 L1212.8,399.6 L1215.2,408.3 L1217.5,399.6 L1220.0,398.4 L1221.5,412.1 L1222.7,422.0 L1225.0,423.3 L1227.0,444.0 L1228.7,438.2 L1230.7,433.3 L1232.7,429.5 L1234.9,436.5 L1236.9,430.8 L1239.4,428.3 L1241.4,419.6 L1243.1,407.1 L1244.4,398.4 L1247.4,397.6 L1249.4,404.6 L1251.1,407.1 L1252.4,439.5 L1254.4,460.6 L1256.3,446.9 L1259.3,429.5 L1259.3,305.5 Z" fill="url(#gg)"/></g>
  <g clip-path="url(#dn)"><path d="M98.8,305.5 L98.8,301.8 L102.5,304.6 L105.0,303.4 L107.5,306.8 L110.0,300.5 L113.8,302.0 L116.2,304.6 L118.2,298.5 L120.8,313.8 L123.8,300.0 L126.2,304.8 L128.8,298.8 L131.2,301.2 L133.2,300.0 L135.0,271.2 L137.0,291.2 L139.2,270.0 L141.8,255.0 L145.0,257.0 L148.8,261.2 L151.5,271.2 L154.2,262.5 L157.0,257.5 L158.8,240.0 L160.8,221.2 L162.5,220.0 L163.8,206.2 L165.5,211.2 L167.2,198.8 L169.0,212.5 L171.2,208.8 L174.2,218.0 L177.0,211.2 L178.8,212.5 L181.8,200.0 L184.0,178.8 L185.5,181.2 L187.0,178.8 L189.5,210.0 L191.2,216.2 L193.0,215.0 L195.5,233.8 L197.5,223.8 L200.0,237.5 L202.5,248.8 L206.2,248.8 L208.0,205.0 L210.0,203.8 L211.8,208.8 L214.2,203.8 L216.2,220.0 L218.0,236.2 L220.0,233.8 L223.8,222.5 L225.8,222.5 L228.0,232.5 L230.0,231.2 L233.8,207.5 L236.2,208.8 L237.5,207.5 L239.2,215.0 L240.8,208.8 L243.0,207.5 L245.0,193.8 L246.8,185.0 L248.8,192.5 L250.0,191.2 L252.5,200.0 L253.8,206.2 L255.0,203.8 L258.8,218.8 L261.2,218.8 L265.0,210.0 L268.8,197.5 L271.2,181.2 L272.5,182.5 L274.2,220.0 L275.8,216.2 L277.5,177.5 L279.2,160.5 L282.5,171.2 L285.0,197.5 L287.0,216.2 L288.8,216.2 L290.8,232.5 L292.0,248.8 L294.2,243.8 L296.8,235.0 L300.0,251.2 L302.5,235.0 L305.0,233.8 L306.8,227.5 L309.5,235.0 L312.5,220.0 L314.5,223.8 L316.2,222.5 L319.2,232.5 L321.2,256.2 L322.5,257.5 L324.5,267.5 L325.8,265.0 L327.5,280.5 L329.5,271.2 L332.5,269.5 L335.0,273.8 L337.5,275.0 L340.5,283.0 L342.5,280.0 L345.0,271.2 L346.8,276.2 L348.2,272.5 L351.8,281.2 L354.5,281.2 L357.0,260.0 L359.5,255.0 L361.2,261.2 L362.5,262.5 L365.0,290.5 L367.5,277.5 L369.5,271.2 L372.5,278.0 L376.2,277.5 L380.0,271.2 L383.0,270.0 L384.5,272.5 L385.8,265.0 L388.8,268.0 L391.8,268.8 L393.8,264.2 L396.2,276.2 L398.8,286.2 L400.5,285.0 L402.0,275.0 L403.8,276.2 L405.0,274.5 L408.0,283.8 L410.0,297.5 L412.0,296.2 L413.8,290.0 L415.5,288.8 L416.8,292.5 L419.5,276.2 L422.5,283.8 L424.2,281.2 L425.8,281.2 L428.0,267.5 L431.2,264.5 L434.5,262.0 L436.2,265.0 L439.2,283.0 L442.0,277.0 L444.5,263.0 L446.8,266.2 L448.8,233.8 L451.8,227.0 L453.8,228.8 L457.0,227.0 L460.0,215.0 L462.0,210.0 L463.8,201.2 L466.2,202.5 L468.0,201.2 L470.0,200.0 L472.5,205.5 L475.0,213.8 L476.2,208.0 L478.0,211.2 L480.0,208.8 L481.8,211.2 L484.5,191.2 L487.0,211.2 L489.5,210.0 L492.5,215.5 L495.0,210.0 L498.8,206.2 L502.0,208.8 L504.2,204.5 L506.2,215.0 L508.8,232.0 L511.2,226.2 L513.2,225.0 L516.8,203.8 L519.5,210.0 L521.8,212.5 L524.2,210.5 L527.5,211.2 L530.0,223.8 L532.5,226.2 L535.8,215.0 L538.2,235.0 L541.2,246.2 L544.2,241.2 L546.2,270.0 L548.0,287.5 L550.8,288.8 L552.5,296.0 L553.8,310.0 L556.2,318.8 L559.2,335.0 L562.0,341.2 L565.0,331.2 L567.5,333.0 L570.5,337.5 L573.8,335.5 L576.2,328.8 L578.8,328.8 L580.5,338.8 L581.8,352.5 L583.0,345.0 L585.8,347.0 L588.0,367.5 L590.0,357.5 L592.0,356.2 L594.2,354.2 L596.2,360.5 L598.0,360.0 L599.5,362.5 L602.5,355.0 L607.0,355.5 L610.0,352.5 L612.5,346.2 L614.5,352.5 L616.8,361.2 L621.2,370.0 L623.8,361.2 L625.5,363.8 L627.5,361.2 L630.0,355.5 L631.8,357.5 L633.0,362.5 L635.0,358.8 L637.0,363.0 L639.5,357.0 L641.2,362.5 L642.5,361.2 L646.2,370.0 L648.8,382.5 L650.8,402.5 L652.0,405.5 L654.0,426.2 L656.2,427.5 L659.5,423.8 L662.0,426.2 L663.8,428.0 L665.8,422.5 L668.0,423.8 L670.5,419.5 L673.0,422.5 L675.5,428.2 L677.0,408.8 L678.2,420.0 L680.0,407.5 L681.8,390.5 L683.8,390.0 L685.0,400.0 L686.8,387.0 L688.8,390.0 L690.8,388.8 L693.0,395.0 L695.0,405.0 L697.0,432.5 L698.0,450.0 L699.2,453.8 L701.2,453.8 L702.5,415.0 L703.8,407.0 L705.8,405.0 L707.5,415.0 L709.5,442.5 L712.0,427.0 L713.2,432.5 L714.5,461.2 L715.8,452.5 L717.5,470.0 L719.5,463.8 L721.2,467.5 L723.0,480.0 L724.5,488.8 L727.0,480.0 L729.5,477.5 L731.2,470.0 L733.0,467.5 L735.0,447.5 L737.5,450.0 L739.2,446.2 L742.0,431.8 L743.8,442.5 L746.2,448.8 L748.0,447.5 L750.0,433.8 L752.0,440.0 L753.8,440.5 L756.2,425.5 L758.8,432.5 L761.2,447.5 L763.8,437.0 L766.2,436.8 L768.2,431.2 L770.0,417.5 L772.0,403.8 L775.0,403.8 L776.8,405.0 L778.8,400.0 L780.5,407.5 L782.0,415.0 L783.2,411.2 L785.0,425.0 L787.5,445.0 L789.2,448.5 L791.5,449.9 L793.4,451.7 L796.2,474.2 L798.0,475.1 L799.9,494.7 L801.2,524.6 L802.1,543.2 L803.3,548.9 L804.6,558.2 L806.4,550.7 L807.9,539.5 L809.8,527.4 L811.5,533.9 L812.6,540.4 L814.3,536.7 L815.8,537.6 L817.6,525.5 L819.5,522.7 L821.4,511.5 L822.9,505.0 L824.2,514.3 L825.5,498.4 L827.0,474.2 L828.5,444.3 L829.8,423.7 L830.7,420.0 L832.6,441.8 L834.2,425.3 L835.8,423.7 L838.0,412.5 L840.5,403.0 L842.5,408.8 L843.8,417.5 L845.0,410.0 L847.0,418.8 L848.8,421.2 L851.2,416.2 L853.0,410.0 L855.0,387.5 L856.8,385.0 L858.2,390.0 L860.0,383.8 L861.2,386.2 L863.0,400.0 L865.0,411.2 L866.8,407.5 L868.2,395.0 L869.2,398.8 L870.8,387.5 L872.0,390.0 L874.2,370.5 L876.2,373.8 L879.2,383.8 L880.8,385.0 L882.5,396.2 L884.5,392.5 L886.2,400.0 L888.0,407.0 L890.0,398.8 L892.0,400.0 L894.5,396.2 L897.5,390.5 L900.5,390.0 L902.0,395.0 L903.8,390.0 L905.5,386.2 L907.5,383.0 L909.5,390.0 L911.2,395.0 L913.0,405.0 L914.5,420.0 L917.0,412.5 L919.2,413.8 L921.2,410.0 L923.2,406.2 L925.5,405.5 L928.0,392.5 L930.5,378.8 L932.5,370.0 L933.8,390.0 L935.2,406.2 L937.0,386.2 L938.8,392.5 L940.8,397.5 L942.0,401.2 L943.0,420.0 L944.2,441.2 L945.8,436.2 L947.0,455.0 L948.2,446.2 L949.5,447.5 L951.2,455.0 L953.2,431.2 L954.5,448.8 L956.2,445.0 L958.2,441.2 L960.8,440.0 L963.2,425.0 L966.2,423.8 L968.8,423.8 L970.8,420.5 L972.5,434.5 L973.8,395.0 L975.0,360.0 L976.2,335.0 L978.0,323.0 L980.0,315.0 L983.0,307.5 L984.2,295.0 L985.5,302.0 L986.2,270.0 L987.5,238.8 L988.8,241.2 L990.5,231.2 L992.5,241.2 L995.0,245.0 L997.5,238.0 L998.8,241.2 L1001.2,234.5 L1003.8,233.8 L1005.5,240.0 L1008.0,228.8 L1010.0,192.5 L1011.8,191.2 L1013.8,217.5 L1016.8,236.2 L1019.5,220.0 L1021.2,221.2 L1023.0,211.2 L1024.5,216.2 L1027.5,200.0 L1029.2,201.2 L1031.2,211.2 L1034.2,198.8 L1037.5,202.5 L1040.0,213.8 L1043.8,214.5 L1045.8,207.5 L1047.5,208.0 L1049.2,217.5 L1050.5,231.2 L1052.0,188.0 L1053.8,206.2 L1055.0,201.2 L1056.8,215.0 L1059.2,225.0 L1062.5,217.5 L1065.5,208.0 L1067.0,214.5 L1068.2,212.5 L1070.0,220.0 L1071.8,222.5 L1073.2,235.0 L1076.2,234.5 L1081.2,234.5 L1083.0,241.2 L1085.5,236.2 L1087.5,228.8 L1089.2,217.5 L1090.8,227.5 L1092.0,250.0 L1093.2,267.5 L1095.8,271.2 L1098.2,278.8 L1101.2,286.2 L1103.0,272.5 L1104.5,268.8 L1105.8,275.0 L1107.0,296.2 L1108.8,303.8 L1110.8,307.0 L1113.8,310.0 L1118.0,308.8 L1121.2,301.2 L1124.5,295.0 L1126.2,303.8 L1127.3,307.5 L1129.3,321.2 L1131.6,331.9 L1134.8,330.4 L1136.5,339.9 L1138.0,362.3 L1139.8,378.5 L1141.5,387.2 L1142.8,399.6 L1144.0,394.1 L1145.5,403.4 L1147.2,398.4 L1149.7,397.1 L1151.3,396.0 L1152.7,402.6 L1156.0,398.4 L1159.7,394.6 L1161.4,396.6 L1163.4,393.4 L1165.4,394.6 L1167.2,397.1 L1169.2,392.7 L1170.9,387.2 L1172.7,382.2 L1175.9,381.4 L1178.4,379.2 L1180.4,382.2 L1182.6,383.4 L1184.6,378.5 L1187.1,380.9 L1189.1,383.4 L1190.8,380.2 L1193.3,379.7 L1195.8,383.4 L1197.8,392.2 L1199.6,407.1 L1201.3,423.3 L1202.8,422.0 L1204.5,409.6 L1205.8,402.1 L1208.3,402.6 L1210.8,391.7 L1212.8,399.6 L1215.2,408.3 L1217.5,399.6 L1220.0,398.4 L1221.5,412.1 L1222.7,422.0 L1225.0,423.3 L1227.0,444.0 L1228.7,438.2 L1230.7,433.3 L1232.7,429.5 L1234.9,436.5 L1236.9,430.8 L1239.4,428.3 L1241.4,419.6 L1243.1,407.1 L1244.4,398.4 L1247.4,397.6 L1249.4,404.6 L1251.1,407.1 L1252.4,439.5 L1254.4,460.6 L1256.3,446.9 L1259.3,429.5 L1259.3,305.5 Z" fill="url(#rg)"/></g>
  <line x1="98.5" x2="1262.8" y1="305.5" y2="305.5" stroke="#8f9299" stroke-width="1.3" stroke-dasharray="1.4 5.2" stroke-dashoffset="-1.3"/>
  <g fill="none" stroke-width="2.7" stroke-linejoin="round" stroke-linecap="round">
    <g clip-path="url(#up)"><path d="M98.8,301.8 L102.5,304.6 L105.0,303.4 L107.5,306.8 L110.0,300.5 L113.8,302.0 L116.2,304.6 L118.2,298.5 L120.8,313.8 L123.8,300.0 L126.2,304.8 L128.8,298.8 L131.2,301.2 L133.2,300.0 L135.0,271.2 L137.0,291.2 L139.2,270.0 L141.8,255.0 L145.0,257.0 L148.8,261.2 L151.5,271.2 L154.2,262.5 L157.0,257.5 L158.8,240.0 L160.8,221.2 L162.5,220.0 L163.8,206.2 L165.5,211.2 L167.2,198.8 L169.0,212.5 L171.2,208.8 L174.2,218.0 L177.0,211.2 L178.8,212.5 L181.8,200.0 L184.0,178.8 L185.5,181.2 L187.0,178.8 L189.5,210.0 L191.2,216.2 L193.0,215.0 L195.5,233.8 L197.5,223.8 L200.0,237.5 L202.5,248.8 L206.2,248.8 L208.0,205.0 L210.0,203.8 L211.8,208.8 L214.2,203.8 L216.2,220.0 L218.0,236.2 L220.0,233.8 L223.8,222.5 L225.8,222.5 L228.0,232.5 L230.0,231.2 L233.8,207.5 L236.2,208.8 L237.5,207.5 L239.2,215.0 L240.8,208.8 L243.0,207.5 L245.0,193.8 L246.8,185.0 L248.8,192.5 L250.0,191.2 L252.5,200.0 L253.8,206.2 L255.0,203.8 L258.8,218.8 L261.2,218.8 L265.0,210.0 L268.8,197.5 L271.2,181.2 L272.5,182.5 L274.2,220.0 L275.8,216.2 L277.5,177.5 L279.2,160.5 L282.5,171.2 L285.0,197.5 L287.0,216.2 L288.8,216.2 L290.8,232.5 L292.0,248.8 L294.2,243.8 L296.8,235.0 L300.0,251.2 L302.5,235.0 L305.0,233.8 L306.8,227.5 L309.5,235.0 L312.5,220.0 L314.5,223.8 L316.2,222.5 L319.2,232.5 L321.2,256.2 L322.5,257.5 L324.5,267.5 L325.8,265.0 L327.5,280.5 L329.5,271.2 L332.5,269.5 L335.0,273.8 L337.5,275.0 L340.5,283.0 L342.5,280.0 L345.0,271.2 L346.8,276.2 L348.2,272.5 L351.8,281.2 L354.5,281.2 L357.0,260.0 L359.5,255.0 L361.2,261.2 L362.5,262.5 L365.0,290.5 L367.5,277.5 L369.5,271.2 L372.5,278.0 L376.2,277.5 L380.0,271.2 L383.0,270.0 L384.5,272.5 L385.8,265.0 L388.8,268.0 L391.8,268.8 L393.8,264.2 L396.2,276.2 L398.8,286.2 L400.5,285.0 L402.0,275.0 L403.8,276.2 L405.0,274.5 L408.0,283.8 L410.0,297.5 L412.0,296.2 L413.8,290.0 L415.5,288.8 L416.8,292.5 L419.5,276.2 L422.5,283.8 L424.2,281.2 L425.8,281.2 L428.0,267.5 L431.2,264.5 L434.5,262.0 L436.2,265.0 L439.2,283.0 L442.0,277.0 L444.5,263.0 L446.8,266.2 L448.8,233.8 L451.8,227.0 L453.8,228.8 L457.0,227.0 L460.0,215.0 L462.0,210.0 L463.8,201.2 L466.2,202.5 L468.0,201.2 L470.0,200.0 L472.5,205.5 L475.0,213.8 L476.2,208.0 L478.0,211.2 L480.0,208.8 L481.8,211.2 L484.5,191.2 L487.0,211.2 L489.5,210.0 L492.5,215.5 L495.0,210.0 L498.8,206.2 L502.0,208.8 L504.2,204.5 L506.2,215.0 L508.8,232.0 L511.2,226.2 L513.2,225.0 L516.8,203.8 L519.5,210.0 L521.8,212.5 L524.2,210.5 L527.5,211.2 L530.0,223.8 L532.5,226.2 L535.8,215.0 L538.2,235.0 L541.2,246.2 L544.2,241.2 L546.2,270.0 L548.0,287.5 L550.8,288.8 L552.5,296.0 L553.8,310.0 L556.2,318.8 L559.2,335.0 L562.0,341.2 L565.0,331.2 L567.5,333.0 L570.5,337.5 L573.8,335.5 L576.2,328.8 L578.8,328.8 L580.5,338.8 L581.8,352.5 L583.0,345.0 L585.8,347.0 L588.0,367.5 L590.0,357.5 L592.0,356.2 L594.2,354.2 L596.2,360.5 L598.0,360.0 L599.5,362.5 L602.5,355.0 L607.0,355.5 L610.0,352.5 L612.5,346.2 L614.5,352.5 L616.8,361.2 L621.2,370.0 L623.8,361.2 L625.5,363.8 L627.5,361.2 L630.0,355.5 L631.8,357.5 L633.0,362.5 L635.0,358.8 L637.0,363.0 L639.5,357.0 L641.2,362.5 L642.5,361.2 L646.2,370.0 L648.8,382.5 L650.8,402.5 L652.0,405.5 L654.0,426.2 L656.2,427.5 L659.5,423.8 L662.0,426.2 L663.8,428.0 L665.8,422.5 L668.0,423.8 L670.5,419.5 L673.0,422.5 L675.5,428.2 L677.0,408.8 L678.2,420.0 L680.0,407.5 L681.8,390.5 L683.8,390.0 L685.0,400.0 L686.8,387.0 L688.8,390.0 L690.8,388.8 L693.0,395.0 L695.0,405.0 L697.0,432.5 L698.0,450.0 L699.2,453.8 L701.2,453.8 L702.5,415.0 L703.8,407.0 L705.8,405.0 L707.5,415.0 L709.5,442.5 L712.0,427.0 L713.2,432.5 L714.5,461.2 L715.8,452.5 L717.5,470.0 L719.5,463.8 L721.2,467.5 L723.0,480.0 L724.5,488.8 L727.0,480.0 L729.5,477.5 L731.2,470.0 L733.0,467.5 L735.0,447.5 L737.5,450.0 L739.2,446.2 L742.0,431.8 L743.8,442.5 L746.2,448.8 L748.0,447.5 L750.0,433.8 L752.0,440.0 L753.8,440.5 L756.2,425.5 L758.8,432.5 L761.2,447.5 L763.8,437.0 L766.2,436.8 L768.2,431.2 L770.0,417.5 L772.0,403.8 L775.0,403.8 L776.8,405.0 L778.8,400.0 L780.5,407.5 L782.0,415.0 L783.2,411.2 L785.0,425.0 L787.5,445.0 L789.2,448.5 L791.5,449.9 L793.4,451.7 L796.2,474.2 L798.0,475.1 L799.9,494.7 L801.2,524.6 L802.1,543.2 L803.3,548.9 L804.6,558.2 L806.4,550.7 L807.9,539.5 L809.8,527.4 L811.5,533.9 L812.6,540.4 L814.3,536.7 L815.8,537.6 L817.6,525.5 L819.5,522.7 L821.4,511.5 L822.9,505.0 L824.2,514.3 L825.5,498.4 L827.0,474.2 L828.5,444.3 L829.8,423.7 L830.7,420.0 L832.6,441.8 L834.2,425.3 L835.8,423.7 L838.0,412.5 L840.5,403.0 L842.5,408.8 L843.8,417.5 L845.0,410.0 L847.0,418.8 L848.8,421.2 L851.2,416.2 L853.0,410.0 L855.0,387.5 L856.8,385.0 L858.2,390.0 L860.0,383.8 L861.2,386.2 L863.0,400.0 L865.0,411.2 L866.8,407.5 L868.2,395.0 L869.2,398.8 L870.8,387.5 L872.0,390.0 L874.2,370.5 L876.2,373.8 L879.2,383.8 L880.8,385.0 L882.5,396.2 L884.5,392.5 L886.2,400.0 L888.0,407.0 L890.0,398.8 L892.0,400.0 L894.5,396.2 L897.5,390.5 L900.5,390.0 L902.0,395.0 L903.8,390.0 L905.5,386.2 L907.5,383.0 L909.5,390.0 L911.2,395.0 L913.0,405.0 L914.5,420.0 L917.0,412.5 L919.2,413.8 L921.2,410.0 L923.2,406.2 L925.5,405.5 L928.0,392.5 L930.5,378.8 L932.5,370.0 L933.8,390.0 L935.2,406.2 L937.0,386.2 L938.8,392.5 L940.8,397.5 L942.0,401.2 L943.0,420.0 L944.2,441.2 L945.8,436.2 L947.0,455.0 L948.2,446.2 L949.5,447.5 L951.2,455.0 L953.2,431.2 L954.5,448.8 L956.2,445.0 L958.2,441.2 L960.8,440.0 L963.2,425.0 L966.2,423.8 L968.8,423.8 L970.8,420.5 L972.5,434.5 L973.8,395.0 L975.0,360.0 L976.2,335.0 L978.0,323.0 L980.0,315.0 L983.0,307.5 L984.2,295.0 L985.5,302.0 L986.2,270.0 L987.5,238.8 L988.8,241.2 L990.5,231.2 L992.5,241.2 L995.0,245.0 L997.5,238.0 L998.8,241.2 L1001.2,234.5 L1003.8,233.8 L1005.5,240.0 L1008.0,228.8 L1010.0,192.5 L1011.8,191.2 L1013.8,217.5 L1016.8,236.2 L1019.5,220.0 L1021.2,221.2 L1023.0,211.2 L1024.5,216.2 L1027.5,200.0 L1029.2,201.2 L1031.2,211.2 L1034.2,198.8 L1037.5,202.5 L1040.0,213.8 L1043.8,214.5 L1045.8,207.5 L1047.5,208.0 L1049.2,217.5 L1050.5,231.2 L1052.0,188.0 L1053.8,206.2 L1055.0,201.2 L1056.8,215.0 L1059.2,225.0 L1062.5,217.5 L1065.5,208.0 L1067.0,214.5 L1068.2,212.5 L1070.0,220.0 L1071.8,222.5 L1073.2,235.0 L1076.2,234.5 L1081.2,234.5 L1083.0,241.2 L1085.5,236.2 L1087.5,228.8 L1089.2,217.5 L1090.8,227.5 L1092.0,250.0 L1093.2,267.5 L1095.8,271.2 L1098.2,278.8 L1101.2,286.2 L1103.0,272.5 L1104.5,268.8 L1105.8,275.0 L1107.0,296.2 L1108.8,303.8 L1110.8,307.0 L1113.8,310.0 L1118.0,308.8 L1121.2,301.2 L1124.5,295.0 L1126.2,303.8 L1127.3,307.5 L1129.3,321.2 L1131.6,331.9 L1134.8,330.4 L1136.5,339.9 L1138.0,362.3 L1139.8,378.5 L1141.5,387.2 L1142.8,399.6 L1144.0,394.1 L1145.5,403.4 L1147.2,398.4 L1149.7,397.1 L1151.3,396.0 L1152.7,402.6 L1156.0,398.4 L1159.7,394.6 L1161.4,396.6 L1163.4,393.4 L1165.4,394.6 L1167.2,397.1 L1169.2,392.7 L1170.9,387.2 L1172.7,382.2 L1175.9,381.4 L1178.4,379.2 L1180.4,382.2 L1182.6,383.4 L1184.6,378.5 L1187.1,380.9 L1189.1,383.4 L1190.8,380.2 L1193.3,379.7 L1195.8,383.4 L1197.8,392.2 L1199.6,407.1 L1201.3,423.3 L1202.8,422.0 L1204.5,409.6 L1205.8,402.1 L1208.3,402.6 L1210.8,391.7 L1212.8,399.6 L1215.2,408.3 L1217.5,399.6 L1220.0,398.4 L1221.5,412.1 L1222.7,422.0 L1225.0,423.3 L1227.0,444.0 L1228.7,438.2 L1230.7,433.3 L1232.7,429.5 L1234.9,436.5 L1236.9,430.8 L1239.4,428.3 L1241.4,419.6 L1243.1,407.1 L1244.4,398.4 L1247.4,397.6 L1249.4,404.6 L1251.1,407.1 L1252.4,439.5 L1254.4,460.6 L1256.3,446.9 L1259.3,429.5" stroke="#4fb381"/></g>
    <g clip-path="url(#dn)"><path d="M98.8,301.8 L102.5,304.6 L105.0,303.4 L107.5,306.8 L110.0,300.5 L113.8,302.0 L116.2,304.6 L118.2,298.5 L120.8,313.8 L123.8,300.0 L126.2,304.8 L128.8,298.8 L131.2,301.2 L133.2,300.0 L135.0,271.2 L137.0,291.2 L139.2,270.0 L141.8,255.0 L145.0,257.0 L148.8,261.2 L151.5,271.2 L154.2,262.5 L157.0,257.5 L158.8,240.0 L160.8,221.2 L162.5,220.0 L163.8,206.2 L165.5,211.2 L167.2,198.8 L169.0,212.5 L171.2,208.8 L174.2,218.0 L177.0,211.2 L178.8,212.5 L181.8,200.0 L184.0,178.8 L185.5,181.2 L187.0,178.8 L189.5,210.0 L191.2,216.2 L193.0,215.0 L195.5,233.8 L197.5,223.8 L200.0,237.5 L202.5,248.8 L206.2,248.8 L208.0,205.0 L210.0,203.8 L211.8,208.8 L214.2,203.8 L216.2,220.0 L218.0,236.2 L220.0,233.8 L223.8,222.5 L225.8,222.5 L228.0,232.5 L230.0,231.2 L233.8,207.5 L236.2,208.8 L237.5,207.5 L239.2,215.0 L240.8,208.8 L243.0,207.5 L245.0,193.8 L246.8,185.0 L248.8,192.5 L250.0,191.2 L252.5,200.0 L253.8,206.2 L255.0,203.8 L258.8,218.8 L261.2,218.8 L265.0,210.0 L268.8,197.5 L271.2,181.2 L272.5,182.5 L274.2,220.0 L275.8,216.2 L277.5,177.5 L279.2,160.5 L282.5,171.2 L285.0,197.5 L287.0,216.2 L288.8,216.2 L290.8,232.5 L292.0,248.8 L294.2,243.8 L296.8,235.0 L300.0,251.2 L302.5,235.0 L305.0,233.8 L306.8,227.5 L309.5,235.0 L312.5,220.0 L314.5,223.8 L316.2,222.5 L319.2,232.5 L321.2,256.2 L322.5,257.5 L324.5,267.5 L325.8,265.0 L327.5,280.5 L329.5,271.2 L332.5,269.5 L335.0,273.8 L337.5,275.0 L340.5,283.0 L342.5,280.0 L345.0,271.2 L346.8,276.2 L348.2,272.5 L351.8,281.2 L354.5,281.2 L357.0,260.0 L359.5,255.0 L361.2,261.2 L362.5,262.5 L365.0,290.5 L367.5,277.5 L369.5,271.2 L372.5,278.0 L376.2,277.5 L380.0,271.2 L383.0,270.0 L384.5,272.5 L385.8,265.0 L388.8,268.0 L391.8,268.8 L393.8,264.2 L396.2,276.2 L398.8,286.2 L400.5,285.0 L402.0,275.0 L403.8,276.2 L405.0,274.5 L408.0,283.8 L410.0,297.5 L412.0,296.2 L413.8,290.0 L415.5,288.8 L416.8,292.5 L419.5,276.2 L422.5,283.8 L424.2,281.2 L425.8,281.2 L428.0,267.5 L431.2,264.5 L434.5,262.0 L436.2,265.0 L439.2,283.0 L442.0,277.0 L444.5,263.0 L446.8,266.2 L448.8,233.8 L451.8,227.0 L453.8,228.8 L457.0,227.0 L460.0,215.0 L462.0,210.0 L463.8,201.2 L466.2,202.5 L468.0,201.2 L470.0,200.0 L472.5,205.5 L475.0,213.8 L476.2,208.0 L478.0,211.2 L480.0,208.8 L481.8,211.2 L484.5,191.2 L487.0,211.2 L489.5,210.0 L492.5,215.5 L495.0,210.0 L498.8,206.2 L502.0,208.8 L504.2,204.5 L506.2,215.0 L508.8,232.0 L511.2,226.2 L513.2,225.0 L516.8,203.8 L519.5,210.0 L521.8,212.5 L524.2,210.5 L527.5,211.2 L530.0,223.8 L532.5,226.2 L535.8,215.0 L538.2,235.0 L541.2,246.2 L544.2,241.2 L546.2,270.0 L548.0,287.5 L550.8,288.8 L552.5,296.0 L553.8,310.0 L556.2,318.8 L559.2,335.0 L562.0,341.2 L565.0,331.2 L567.5,333.0 L570.5,337.5 L573.8,335.5 L576.2,328.8 L578.8,328.8 L580.5,338.8 L581.8,352.5 L583.0,345.0 L585.8,347.0 L588.0,367.5 L590.0,357.5 L592.0,356.2 L594.2,354.2 L596.2,360.5 L598.0,360.0 L599.5,362.5 L602.5,355.0 L607.0,355.5 L610.0,352.5 L612.5,346.2 L614.5,352.5 L616.8,361.2 L621.2,370.0 L623.8,361.2 L625.5,363.8 L627.5,361.2 L630.0,355.5 L631.8,357.5 L633.0,362.5 L635.0,358.8 L637.0,363.0 L639.5,357.0 L641.2,362.5 L642.5,361.2 L646.2,370.0 L648.8,382.5 L650.8,402.5 L652.0,405.5 L654.0,426.2 L656.2,427.5 L659.5,423.8 L662.0,426.2 L663.8,428.0 L665.8,422.5 L668.0,423.8 L670.5,419.5 L673.0,422.5 L675.5,428.2 L677.0,408.8 L678.2,420.0 L680.0,407.5 L681.8,390.5 L683.8,390.0 L685.0,400.0 L686.8,387.0 L688.8,390.0 L690.8,388.8 L693.0,395.0 L695.0,405.0 L697.0,432.5 L698.0,450.0 L699.2,453.8 L701.2,453.8 L702.5,415.0 L703.8,407.0 L705.8,405.0 L707.5,415.0 L709.5,442.5 L712.0,427.0 L713.2,432.5 L714.5,461.2 L715.8,452.5 L717.5,470.0 L719.5,463.8 L721.2,467.5 L723.0,480.0 L724.5,488.8 L727.0,480.0 L729.5,477.5 L731.2,470.0 L733.0,467.5 L735.0,447.5 L737.5,450.0 L739.2,446.2 L742.0,431.8 L743.8,442.5 L746.2,448.8 L748.0,447.5 L750.0,433.8 L752.0,440.0 L753.8,440.5 L756.2,425.5 L758.8,432.5 L761.2,447.5 L763.8,437.0 L766.2,436.8 L768.2,431.2 L770.0,417.5 L772.0,403.8 L775.0,403.8 L776.8,405.0 L778.8,400.0 L780.5,407.5 L782.0,415.0 L783.2,411.2 L785.0,425.0 L787.5,445.0 L789.2,448.5 L791.5,449.9 L793.4,451.7 L796.2,474.2 L798.0,475.1 L799.9,494.7 L801.2,524.6 L802.1,543.2 L803.3,548.9 L804.6,558.2 L806.4,550.7 L807.9,539.5 L809.8,527.4 L811.5,533.9 L812.6,540.4 L814.3,536.7 L815.8,537.6 L817.6,525.5 L819.5,522.7 L821.4,511.5 L822.9,505.0 L824.2,514.3 L825.5,498.4 L827.0,474.2 L828.5,444.3 L829.8,423.7 L830.7,420.0 L832.6,441.8 L834.2,425.3 L835.8,423.7 L838.0,412.5 L840.5,403.0 L842.5,408.8 L843.8,417.5 L845.0,410.0 L847.0,418.8 L848.8,421.2 L851.2,416.2 L853.0,410.0 L855.0,387.5 L856.8,385.0 L858.2,390.0 L860.0,383.8 L861.2,386.2 L863.0,400.0 L865.0,411.2 L866.8,407.5 L868.2,395.0 L869.2,398.8 L870.8,387.5 L872.0,390.0 L874.2,370.5 L876.2,373.8 L879.2,383.8 L880.8,385.0 L882.5,396.2 L884.5,392.5 L886.2,400.0 L888.0,407.0 L890.0,398.8 L892.0,400.0 L894.5,396.2 L897.5,390.5 L900.5,390.0 L902.0,395.0 L903.8,390.0 L905.5,386.2 L907.5,383.0 L909.5,390.0 L911.2,395.0 L913.0,405.0 L914.5,420.0 L917.0,412.5 L919.2,413.8 L921.2,410.0 L923.2,406.2 L925.5,405.5 L928.0,392.5 L930.5,378.8 L932.5,370.0 L933.8,390.0 L935.2,406.2 L937.0,386.2 L938.8,392.5 L940.8,397.5 L942.0,401.2 L943.0,420.0 L944.2,441.2 L945.8,436.2 L947.0,455.0 L948.2,446.2 L949.5,447.5 L951.2,455.0 L953.2,431.2 L954.5,448.8 L956.2,445.0 L958.2,441.2 L960.8,440.0 L963.2,425.0 L966.2,423.8 L968.8,423.8 L970.8,420.5 L972.5,434.5 L973.8,395.0 L975.0,360.0 L976.2,335.0 L978.0,323.0 L980.0,315.0 L983.0,307.5 L984.2,295.0 L985.5,302.0 L986.2,270.0 L987.5,238.8 L988.8,241.2 L990.5,231.2 L992.5,241.2 L995.0,245.0 L997.5,238.0 L998.8,241.2 L1001.2,234.5 L1003.8,233.8 L1005.5,240.0 L1008.0,228.8 L1010.0,192.5 L1011.8,191.2 L1013.8,217.5 L1016.8,236.2 L1019.5,220.0 L1021.2,221.2 L1023.0,211.2 L1024.5,216.2 L1027.5,200.0 L1029.2,201.2 L1031.2,211.2 L1034.2,198.8 L1037.5,202.5 L1040.0,213.8 L1043.8,214.5 L1045.8,207.5 L1047.5,208.0 L1049.2,217.5 L1050.5,231.2 L1052.0,188.0 L1053.8,206.2 L1055.0,201.2 L1056.8,215.0 L1059.2,225.0 L1062.5,217.5 L1065.5,208.0 L1067.0,214.5 L1068.2,212.5 L1070.0,220.0 L1071.8,222.5 L1073.2,235.0 L1076.2,234.5 L1081.2,234.5 L1083.0,241.2 L1085.5,236.2 L1087.5,228.8 L1089.2,217.5 L1090.8,227.5 L1092.0,250.0 L1093.2,267.5 L1095.8,271.2 L1098.2,278.8 L1101.2,286.2 L1103.0,272.5 L1104.5,268.8 L1105.8,275.0 L1107.0,296.2 L1108.8,303.8 L1110.8,307.0 L1113.8,310.0 L1118.0,308.8 L1121.2,301.2 L1124.5,295.0 L1126.2,303.8 L1127.3,307.5 L1129.3,321.2 L1131.6,331.9 L1134.8,330.4 L1136.5,339.9 L1138.0,362.3 L1139.8,378.5 L1141.5,387.2 L1142.8,399.6 L1144.0,394.1 L1145.5,403.4 L1147.2,398.4 L1149.7,397.1 L1151.3,396.0 L1152.7,402.6 L1156.0,398.4 L1159.7,394.6 L1161.4,396.6 L1163.4,393.4 L1165.4,394.6 L1167.2,397.1 L1169.2,392.7 L1170.9,387.2 L1172.7,382.2 L1175.9,381.4 L1178.4,379.2 L1180.4,382.2 L1182.6,383.4 L1184.6,378.5 L1187.1,380.9 L1189.1,383.4 L1190.8,380.2 L1193.3,379.7 L1195.8,383.4 L1197.8,392.2 L1199.6,407.1 L1201.3,423.3 L1202.8,422.0 L1204.5,409.6 L1205.8,402.1 L1208.3,402.6 L1210.8,391.7 L1212.8,399.6 L1215.2,408.3 L1217.5,399.6 L1220.0,398.4 L1221.5,412.1 L1222.7,422.0 L1225.0,423.3 L1227.0,444.0 L1228.7,438.2 L1230.7,433.3 L1232.7,429.5 L1234.9,436.5 L1236.9,430.8 L1239.4,428.3 L1241.4,419.6 L1243.1,407.1 L1244.4,398.4 L1247.4,397.6 L1249.4,404.6 L1251.1,407.1 L1252.4,439.5 L1254.4,460.6 L1256.3,446.9 L1259.3,429.5" stroke="#ca3f40"/></g>
  </g>
  <g font-size="15.4" fill="#7b8190" stroke="#7b8190" stroke-width="0.2" text-anchor="end"><text x="85.3" y="628.5">33.00K</text><text x="85.3" y="591.2">34.00K</text><text x="85.3" y="553.8">35.00K</text><text x="85.3" y="516.5">36.00K</text><text x="85.3" y="479.1">37.00K</text><text x="85.3" y="441.7">38.00K</text><text x="85.3" y="404.4">39.00K</text><text x="85.3" y="367.1">40.00K</text><text x="85.3" y="329.7">41.00K</text><text x="85.3" y="292.3">42.00K</text><text x="85.3" y="255.0">43.00K</text><text x="85.3" y="217.6">44.00K</text><text x="85.3" y="180.3">45.00K</text></g>
  <rect x="30.6" y="293.2" width="67.6" height="23" fill="#9094a0"/>
  <text x="85.2" y="310.1" font-size="14.2" fill="#fff" stroke="#fff" stroke-width="0.45" text-anchor="end">41.51K</text>
  <g stroke="#7a7f8b" stroke-width="1.1"><line x1="214.3" x2="214.3" y1="635.2" y2="639.2"/><line x1="331.3" x2="331.3" y1="635.2" y2="639.2"/><line x1="447.3" x2="447.3" y1="635.2" y2="639.2"/><line x1="564.3" x2="564.3" y1="635.2" y2="639.2"/><line x1="680.3" x2="680.3" y1="635.2" y2="639.2"/><line x1="797.3" x2="797.3" y1="635.2" y2="639.2"/><line x1="990.3" x2="990.3" y1="635.2" y2="639.2"/><line x1="1107.3" x2="1107.3" y1="635.2" y2="639.2"/><line x1="1223.3" x2="1223.3" y1="635.2" y2="639.2"/></g>
  <g font-size="15" fill="#7f8594" text-anchor="middle"><text x="214.4" y="657.6">8</text><text x="331.4" y="657.6">11</text><text x="447.4" y="657.6">14</text><text x="564.4" y="657.6">17</text><text x="680.4" y="657.6">20</text><text x="797.4" y="657.6">23</text><text x="990.4" y="657.6" font-weight="bold">Feb</text><text x="1107.4" y="657.6">3</text><text x="1223.4" y="657.6">6</text></g>
  <text x="61.2" y="657.2" font-size="16" font-weight="bold" fill="#828895" text-anchor="middle">USD</text>

  <g fill="#d3d6e2" stroke="none">
    <text x="1103.5" y="500.8" font-size="19.8" font-weight="bold" fill="#d7dae5">CoinMarketCap</text>
  </g>
  <g fill="none" stroke="#d7dae5" stroke-width="2.9" stroke-linecap="round" stroke-linejoin="round">
    <path d="M1086,503.2 A14.1,14.1 0 1 1 1091,492.3"/>
    <path d="M1068.4,499 L1073.2,488 Q1074.5,485.8 1075.5,488.2 L1077.5,493.8 Q1078.3,495.4 1079.2,493.8 L1082.1,488 Q1083.6,485.6 1084.4,488.6 L1085.3,494.2 Q1086.6,498.6 1091,492.3"/>
  </g>

  <rect x="100.3" y="668.6" width="1158.6" height="66.8" fill="#eef1fd"/>
  <path d="M100.4,735.4 L100.4,697.8 L106.8,697.9 L111.8,697.6 L118.0,698.1 L122.5,699.2 L128.0,698.1 L133.0,697.7 L136.7,694.2 L140.9,694.1 L146.7,692.5 L153.2,694.2 L158.7,692.6 L162.4,688.4 L165.4,686.6 L168.9,685.8 L172.9,686.9 L178.6,687.2 L183.3,685.9 L187.1,683.7 L191.1,687.1 L194.6,687.6 L199.1,688.7 L204.0,691.6 L209.5,686.5 L213.3,686.9 L217.8,688.2 L221.5,689.8 L227.2,688.5 L231.5,689.5 L237.7,686.9 L240.7,687.6 L244.4,686.8 L248.2,684.2 L251.4,684.9 L255.2,686.6 L260.1,688.1 L266.4,687.1 L272.6,683.7 L275.6,688.2 L278.9,683.3 L283.8,682.6 L288.3,687.8 L292.1,689.7 L295.6,691.0 L301.3,691.9 L306.3,689.8 L310.8,690.0 L315.8,688.7 L320.5,689.7 L323.7,692.6 L327.0,693.5 L330.7,694.2 L336.2,694.5 L341.7,695.6 L346.2,694.2 L349.4,694.3 L355.7,695.4 L360.6,692.3 L363.6,693.2 L368.6,694.9 L373.6,695.0 L381.1,694.2 L385.6,694.3 L389.8,693.8 L394.8,693.4 L399.8,695.9 L403.0,694.6 L406.0,694.6 L411.0,697.3 L414.8,696.4 L417.8,696.7 L423.5,695.7 L426.7,695.4 L432.2,693.4 L437.2,693.5 L442.9,694.9 L447.7,693.6 L452.7,689.0 L457.9,689.0 L462.9,687.1 L467.1,686.2 L470.9,685.9 L475.9,687.5 L478.9,687.2 L482.6,687.2 L487.8,687.2 L493.3,687.7 L499.5,686.6 L505.0,686.4 L509.5,689.6 L514.0,688.8 L520.2,687.1 L525.0,687.1 L530.7,688.7 L536.5,687.6 L541.9,691.3 L546.9,694.1 L551.4,696.2 L554.4,698.7 L559.9,701.6 L565.6,701.2 L571.1,701.9 L576.9,700.9 L581.1,702.1 L583.6,702.8 L588.6,705.4 L592.6,704.1 L596.8,704.6 L600.0,704.8 L607.5,704.0 L613.0,702.9 L617.3,704.7 L624.2,704.7 L628.0,704.7 L632.2,704.2 L635.5,704.4 L639.9,704.2 L642.9,704.7 L649.2,707.2 L652.4,709.8 L656.7,712.4 L662.4,712.3 L666.1,711.8 L670.9,711.5 L675.9,712.5 L678.6,711.5 L682.1,708.1 L685.3,709.2 L689.1,708.0 L693.3,708.6 L697.3,713.0 L699.5,715.5 L702.8,710.9 L706.0,709.8 L709.8,714.2 L713.5,713.0 L716.0,715.3 L719.7,716.6 L723.2,718.5 L727.2,718.5 L731.5,717.4 L735.2,714.7 L739.4,714.6 L743.9,714.2 L748.2,714.7 L752.2,713.9 L756.4,712.2 L761.4,714.7 L766.4,713.5 L770.1,711.2 L775.1,709.6 L778.8,709.2 L782.1,710.9 L785.1,712.1 L789.3,714.9 L793.5,715.2 L798.1,717.9 L801.2,723.7 L803.3,726.5 L806.4,726.8 L809.8,724.0 L812.6,725.6 L815.8,725.2 L819.5,723.5 L822.9,721.4 L825.5,720.7 L828.5,714.4 L830.7,711.5 L834.2,712.1 L838.0,710.7 L842.4,710.2 L844.9,710.4 L848.7,711.7 L852.9,710.4 L856.7,707.5 L859.9,707.3 L862.9,709.2 L866.6,710.1 L869.1,709.1 L871.9,708.0 L876.1,706.1 L880.6,707.5 L884.3,708.3 L887.8,710.0 L891.8,709.2 L897.3,708.1 L901.8,708.6 L905.3,707.6 L909.3,708.0 L912.8,709.8 L916.8,710.7 L921.0,710.4 L925.2,709.8 L930.2,706.7 L933.5,708.0 L936.7,707.6 L940.4,708.9 L942.7,711.5 L945.4,713.4 L947.9,714.6 L950.9,715.6 L954.2,714.9 L957.9,714.0 L962.9,712.1 L968.4,712.0 L972.1,713.2 L974.6,704.5 L977.6,700.2 L982.6,698.4 L985.1,697.8 L987.1,690.4 L990.1,689.5 L994.6,691.1 L998.3,690.7 L1003.3,689.8 L1007.5,689.2 L1011.3,684.9 L1016.3,690.1 L1020.7,688.4 L1024.0,687.8 L1028.7,686.0 L1033.7,685.8 L1039.4,687.5 L1045.2,686.8 L1048.7,687.9 L1051.4,684.5 L1054.4,686.0 L1058.6,688.8 L1064.9,686.8 L1067.6,687.4 L1071.1,688.5 L1075.6,689.9 L1082.3,690.7 L1086.8,689.2 L1090.1,689.1 L1092.6,693.8 L1097.6,695.1 L1102.3,694.3 L1105.0,694.6 L1108.0,698.0 L1113.0,698.7 L1120.5,697.7 L1125.5,698.0 L1128.5,700.0 L1134.0,701.1 L1137.2,704.8 L1140.7,707.7 L1143.2,708.5 L1146.4,709.0 L1150.5,708.7 L1155.2,709.0 L1160.5,708.8 L1164.5,708.6 L1168.3,708.3 L1171.8,707.1 L1177.5,706.8 L1181.7,707.3 L1186.2,707.0 L1189.9,706.9 L1194.9,707.3 L1198.6,710.0 L1201.8,711.8 L1204.8,709.4 L1209.8,708.2 L1214.2,710.2 L1219.0,709.0 L1221.7,711.8 L1226.0,714.3 L1229.7,713.1 L1233.9,713.5 L1238.3,712.5 L1242.0,710.0 L1246.3,708.9 L1250.0,710.0 L1253.3,716.3 L1258.2,712.6 L1258.9,712.3 L1258.9,735.4 Z" fill="#dfe4fb"/>
  <g stroke="#dbdff2" stroke-width="1"><line x1="215.5" x2="215.5" y1="668.6" y2="735.4"/><line x1="332.2" x2="332.2" y1="668.6" y2="735.4"/><line x1="447.9" x2="447.9" y1="668.6" y2="735.4"/><line x1="564.6" x2="564.6" y1="668.6" y2="735.4"/><line x1="680.3" x2="680.3" y1="668.6" y2="735.4"/><line x1="797.1" x2="797.1" y1="668.6" y2="735.4"/><line x1="989.6" x2="989.6" y1="668.6" y2="735.4"/><line x1="1106.3" x2="1106.3" y1="668.6" y2="735.4"/><line x1="1222.0" x2="1222.0" y1="668.6" y2="735.4"/></g>
  <path d="M100.4,697.8 L106.8,697.9 L111.8,697.6 L118.0,698.1 L122.5,699.2 L128.0,698.1 L133.0,697.7 L136.7,694.2 L140.9,694.1 L146.7,692.5 L153.2,694.2 L158.7,692.6 L162.4,688.4 L165.4,686.6 L168.9,685.8 L172.9,686.9 L178.6,687.2 L183.3,685.9 L187.1,683.7 L191.1,687.1 L194.6,687.6 L199.1,688.7 L204.0,691.6 L209.5,686.5 L213.3,686.9 L217.8,688.2 L221.5,689.8 L227.2,688.5 L231.5,689.5 L237.7,686.9 L240.7,687.6 L244.4,686.8 L248.2,684.2 L251.4,684.9 L255.2,686.6 L260.1,688.1 L266.4,687.1 L272.6,683.7 L275.6,688.2 L278.9,683.3 L283.8,682.6 L288.3,687.8 L292.1,689.7 L295.6,691.0 L301.3,691.9 L306.3,689.8 L310.8,690.0 L315.8,688.7 L320.5,689.7 L323.7,692.6 L327.0,693.5 L330.7,694.2 L336.2,694.5 L341.7,695.6 L346.2,694.2 L349.4,694.3 L355.7,695.4 L360.6,692.3 L363.6,693.2 L368.6,694.9 L373.6,695.0 L381.1,694.2 L385.6,694.3 L389.8,693.8 L394.8,693.4 L399.8,695.9 L403.0,694.6 L406.0,694.6 L411.0,697.3 L414.8,696.4 L417.8,696.7 L423.5,695.7 L426.7,695.4 L432.2,693.4 L437.2,693.5 L442.9,694.9 L447.7,693.6 L452.7,689.0 L457.9,689.0 L462.9,687.1 L467.1,686.2 L470.9,685.9 L475.9,687.5 L478.9,687.2 L482.6,687.2 L487.8,687.2 L493.3,687.7 L499.5,686.6 L505.0,686.4 L509.5,689.6 L514.0,688.8 L520.2,687.1 L525.0,687.1 L530.7,688.7 L536.5,687.6 L541.9,691.3 L546.9,694.1 L551.4,696.2 L554.4,698.7 L559.9,701.6 L565.6,701.2 L571.1,701.9 L576.9,700.9 L581.1,702.1 L583.6,702.8 L588.6,705.4 L592.6,704.1 L596.8,704.6 L600.0,704.8 L607.5,704.0 L613.0,702.9 L617.3,704.7 L624.2,704.7 L628.0,704.7 L632.2,704.2 L635.5,704.4 L639.9,704.2 L642.9,704.7 L649.2,707.2 L652.4,709.8 L656.7,712.4 L662.4,712.3 L666.1,711.8 L670.9,711.5 L675.9,712.5 L678.6,711.5 L682.1,708.1 L685.3,709.2 L689.1,708.0 L693.3,708.6 L697.3,713.0 L699.5,715.5 L702.8,710.9 L706.0,709.8 L709.8,714.2 L713.5,713.0 L716.0,715.3 L719.7,716.6 L723.2,718.5 L727.2,718.5 L731.5,717.4 L735.2,714.7 L739.4,714.6 L743.9,714.2 L748.2,714.7 L752.2,713.9 L756.4,712.2 L761.4,714.7 L766.4,713.5 L770.1,711.2 L775.1,709.6 L778.8,709.2 L782.1,710.9 L785.1,712.1 L789.3,714.9 L793.5,715.2 L798.1,717.9 L801.2,723.7 L803.3,726.5 L806.4,726.8 L809.8,724.0 L812.6,725.6 L815.8,725.2 L819.5,723.5 L822.9,721.4 L825.5,720.7 L828.5,714.4 L830.7,711.5 L834.2,712.1 L838.0,710.7 L842.4,710.2 L844.9,710.4 L848.7,711.7 L852.9,710.4 L856.7,707.5 L859.9,707.3 L862.9,709.2 L866.6,710.1 L869.1,709.1 L871.9,708.0 L876.1,706.1 L880.6,707.5 L884.3,708.3 L887.8,710.0 L891.8,709.2 L897.3,708.1 L901.8,708.6 L905.3,707.6 L909.3,708.0 L912.8,709.8 L916.8,710.7 L921.0,710.4 L925.2,709.8 L930.2,706.7 L933.5,708.0 L936.7,707.6 L940.4,708.9 L942.7,711.5 L945.4,713.4 L947.9,714.6 L950.9,715.6 L954.2,714.9 L957.9,714.0 L962.9,712.1 L968.4,712.0 L972.1,713.2 L974.6,704.5 L977.6,700.2 L982.6,698.4 L985.1,697.8 L987.1,690.4 L990.1,689.5 L994.6,691.1 L998.3,690.7 L1003.3,689.8 L1007.5,689.2 L1011.3,684.9 L1016.3,690.1 L1020.7,688.4 L1024.0,687.8 L1028.7,686.0 L1033.7,685.8 L1039.4,687.5 L1045.2,686.8 L1048.7,687.9 L1051.4,684.5 L1054.4,686.0 L1058.6,688.8 L1064.9,686.8 L1067.6,687.4 L1071.1,688.5 L1075.6,689.9 L1082.3,690.7 L1086.8,689.2 L1090.1,689.1 L1092.6,693.8 L1097.6,695.1 L1102.3,694.3 L1105.0,694.6 L1108.0,698.0 L1113.0,698.7 L1120.5,697.7 L1125.5,698.0 L1128.5,700.0 L1134.0,701.1 L1137.2,704.8 L1140.7,707.7 L1143.2,708.5 L1146.4,709.0 L1150.5,708.7 L1155.2,709.0 L1160.5,708.8 L1164.5,708.6 L1168.3,708.3 L1171.8,707.1 L1177.5,706.8 L1181.7,707.3 L1186.2,707.0 L1189.9,706.9 L1194.9,707.3 L1198.6,710.0 L1201.8,711.8 L1204.8,709.4 L1209.8,708.2 L1214.2,710.2 L1219.0,709.0 L1221.7,711.8 L1226.0,714.3 L1229.7,713.1 L1233.9,713.5 L1238.3,712.5 L1242.0,710.0 L1246.3,708.9 L1250.0,710.0 L1253.3,716.3 L1258.2,712.6 L1258.9,712.3" fill="none" stroke="#5a76c6" stroke-width="1.45" stroke-linejoin="round"/>
  <g font-size="15" fill="#8c93a8" text-anchor="middle"><text x="214.2" y="724">8</text><text x="331.2" y="724">11</text><text x="447.2" y="724">14</text><text x="564.2" y="724">17</text><text x="680.2" y="724">20</text><text x="797.2" y="724">23</text><text x="990.2" y="724" font-weight="bold">Feb</text><text x="1107.2" y="724">3</text><text x="1223.2" y="724">6</text></g>
  <g>
    <rect x="94.4" y="687" width="13.2" height="24.6" rx="5.5" fill="#fff" stroke="#f6f7fa" stroke-width="0.6"/>
    <path d="M99.4,695.6 V703.6 M102.6,695.6 V703.6" stroke="#a9acb8" stroke-width="1.1"/>
    <rect x="1252.8" y="687.6" width="11" height="24.6" rx="5" fill="#fff" stroke="#f6f7fa" stroke-width="0.6"/>
    <path d="M1257.6,696 V703.8 M1260.6,696 V703.8" stroke="#a9acb8" stroke-width="1.1"/>
  </g>
</svg>

<svg class="abs" style="left:0;top:656px" width="92" height="92" viewBox="0 656 92 92" role="img" aria-label="Daily News Recap">
  <circle cx="45.3" cy="701.95" r="42.4" fill="#4164e8"/>
  <rect x="11.8" y="679.6" width="67" height="44.2" rx="3.5" fill="#fff"/>
  <rect x="24.9" y="684.1" width="40.8" height="35.5" rx="1" fill="#4163e6"/>
  <g fill="#4163e6">
    <rect x="15.0" y="684.2" width="6.2" height="3.8" rx="1"/><rect x="15.0" y="694.4" width="6.2" height="3.8" rx="1"/><rect x="15.0" y="704.9" width="6.2" height="3.8" rx="1"/><rect x="15.0" y="715.6" width="6.2" height="3.8" rx="1"/><rect x="69.9" y="684.2" width="6.2" height="3.8" rx="1"/><rect x="69.9" y="694.4" width="6.2" height="3.8" rx="1"/><rect x="69.9" y="704.9" width="6.2" height="3.8" rx="1"/><rect x="69.9" y="715.6" width="6.2" height="3.8" rx="1"/>
  </g>
  <g font-size="10.7" font-weight="bold" fill="#fff" stroke="#fff" stroke-width="0.3">
    <text x="29.4" y="695">Daily</text><text x="29.4" y="704.9">News</text><text x="29.4" y="715">Recap</text>
  </g>
</svg>

<div class="cb" style="left:29.3px;top:756px;background:#4163e6;box-shadow:0 1px 3px rgba(60,80,160,.35);">
  <svg width="19" height="19" viewBox="0 0 19 19" style="display:block"><path d="M4.7,9.7 L8,13 L14.9,5.5" fill="none" stroke="#fff" stroke-width="1.15" stroke-linecap="round" stroke-linejoin="round"/></svg>
</div>
<div class="leg" style="left:65.5px;">USD</div>
<div class="cb" style="left:145.3px;top:755.8px;width:19.6px;height:19.4px;border-radius:5px;background:#fff;border:1px solid #e1e4ec;box-shadow:0 1.5px 3px rgba(100,110,140,.28);"></div>
<div class="leg" style="left:182px;">BTC</div>
<div id="foot">Want more data? <a>Check out our API</a></div>
</body>
</html>
